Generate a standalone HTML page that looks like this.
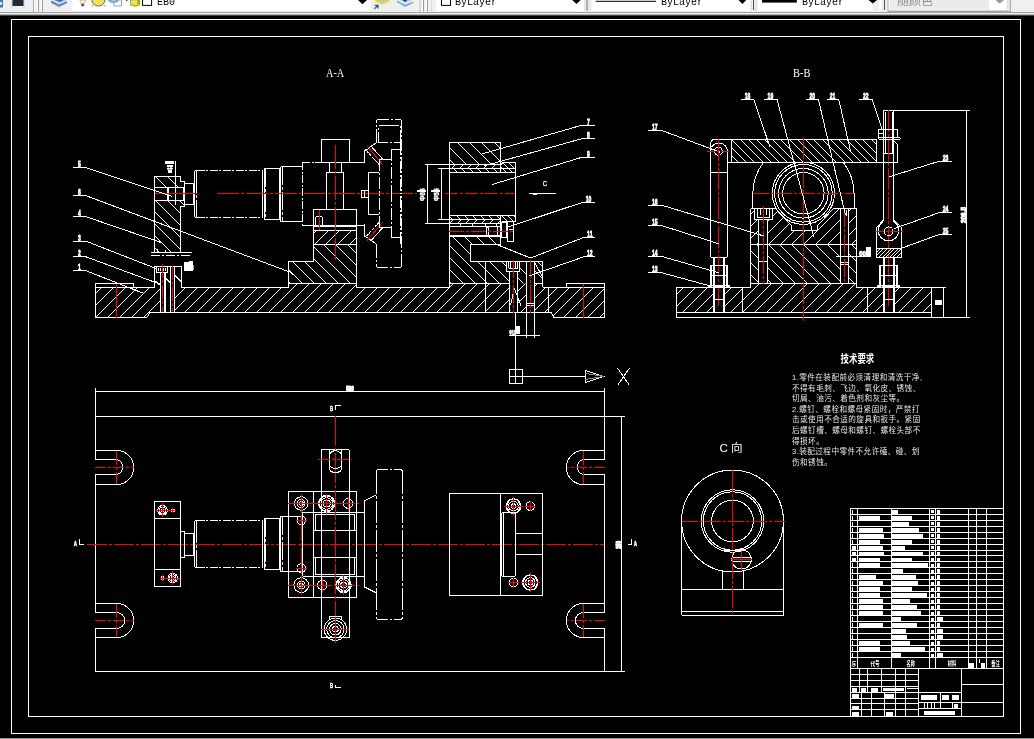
<!DOCTYPE html>
<html lang="zh"><head><meta charset="utf-8"><title>AutoCAD</title>
<style>
html,body{margin:0;padding:0;background:#000;}
body{width:1034px;height:739px;overflow:hidden;position:relative;font-family:"Liberation Sans","Noto Sans CJK SC",sans-serif;}
svg text{white-space:pre;}
</style></head><body>
<svg width="1034" height="739" viewBox="0 0 1034 739" shape-rendering="crispEdges" fill="none" stroke="#fff" stroke-width="1" style="position:absolute;left:0;top:0;will-change:transform">
<defs><clipPath id="h1"><path d="M95.3 287.3 L288.5 287.3 L288.5 283.2 L356.6 283.2 L356.6 287.3 L449.6 287.3 L449.6 283.5 L542.6 283.5 L542.6 287.3 L604.8 287.3 L604.8 317.5 L553.4 317.5 L551.6 312.2 L150 312.2 L146.9 317.5 L95.3 317.5Z M160.3 287.3 L174.4 287.3 L174.4 312.2 L160.3 312.2Z M510.3 283.5 L517.4 283.5 L517.4 312.2 L510.3 312.2Z M526.1 283.5 L534.8 283.5 L534.8 312.2 L526.1 312.2Z" clip-rule="evenodd"/></clipPath>
<clipPath id="h2"><path d="M154.6 176.3 L180.4 176.3 L180.4 181.1 L184.5 181.1 L184.5 206.3 L180.4 206.3 L180.4 252.5 L154.6 252.5Z M154.6 187.5 L184.5 187.5 L184.5 200.5 L154.6 200.5Z" clip-rule="evenodd"/></clipPath>
<clipPath id="h3"><path d="M313.6 230.6 L356.6 230.6 L356.6 244.5 L313.6 244.5Z" clip-rule="evenodd"/></clipPath>
<clipPath id="h4"><path d="M288.5 261.1 L313.6 261.1 L313.6 244.5 L356.6 244.5 L356.6 283.2 L288.5 283.2Z" clip-rule="evenodd"/></clipPath>
<clipPath id="h5"><path d="M449.5 142.4 L500.7 142.4 L500.7 164.5 L449.5 164.5Z" clip-rule="evenodd"/></clipPath>
<clipPath id="h6"><path d="M449.5 164.7 L500.7 164.7 L500.7 168.7 L449.5 168.7Z" clip-rule="evenodd"/></clipPath>
<clipPath id="h7"><path d="M449.5 168.7 L500.7 168.7 L500.7 172.4 L449.5 172.4Z" clip-rule="evenodd"/></clipPath>
<clipPath id="h8"><path d="M500.7 162.6 L515.6 162.6 L515.6 172.4 L500.7 172.4Z" clip-rule="evenodd"/></clipPath>
<clipPath id="h9"><path d="M449.5 215.5 L500.7 215.5 L500.7 219.6 L449.5 219.6Z" clip-rule="evenodd"/></clipPath>
<clipPath id="h10"><path d="M449.5 219.6 L500.7 219.6 L500.7 223.9 L449.5 223.9Z" clip-rule="evenodd"/></clipPath>
<clipPath id="h11"><path d="M501.5 215.5 L515.6 215.5 L515.6 221.4 L501.5 221.4Z" clip-rule="evenodd"/></clipPath>
<clipPath id="h12"><path d="M449.5 236.9 L500.7 236.9 L500.7 244.8 L470.5 244.8 L470.5 261.3 L542.6 261.3 L542.6 283.5 L449.5 283.5Z M506.1 261.3 L519.6 261.3 L519.6 271 L506.1 271Z M509.3 271 L517.4 271 L517.4 283.5 L509.3 283.5Z M526.1 261.3 L534.8 261.3 L534.8 283.5 L526.1 283.5Z" clip-rule="evenodd"/></clipPath>
<clipPath id="h13"><path d="M676.4 287.3 L750.6 287.3 L750.6 283.8 L856.5 283.8 L856.5 287.3 L931.5 287.3 L931.5 312.2 L676.4 312.2Z M713.1 287.3 L725.1 287.3 L725.1 312.2 L713.1 312.2Z M883.6 287.3 L893.8 287.3 L893.8 312.2 L883.6 312.2Z" clip-rule="evenodd"/></clipPath>
<clipPath id="h14"><path d="M731.5 139.4 L876.4 139.4 L876.4 162.2 L731.5 162.2Z" clip-rule="evenodd"/></clipPath>
<clipPath id="h15"><path clip-rule="evenodd" d="M750.6 208.9 L856.5 208.9 L856.5 244.7 L750.6 244.7Z M775.5 208.9 L791.2 225.8 L791.2 230.8 L817.2 230.8 L817.2 225.8 L833.4 208.9Z M754.2 208.9 L772.1 208.9 L772.1 219.3 L754.2 219.3Z M758.4 219.3 L767.7 219.3 L767.7 244.7 L758.4 244.7Z M840.6 208.9 L848.4 208.9 L848.4 244.7 L840.6 244.7Z"/></clipPath>
<clipPath id="h16"><path d="M750.6 244.7 L856.5 244.7 L856.5 283.8 L750.6 283.8Z M840.6 244.7 L848.4 244.7 L848.4 283.8 L840.6 283.8Z M758.4 244.7 L767.7 244.7 L767.7 283.8 L758.4 283.8Z" clip-rule="evenodd"/></clipPath>
<clipPath id="h17"><path d="M876.6 248.2 L901.3 248.2 L901.3 257.6 L876.6 257.6Z" clip-rule="evenodd"/></clipPath></defs>
<rect x="11.5" y="19.5" width="1009" height="714"/>
<rect x="28.5" y="36.5" width="975" height="680"/>
<rect x="0" y="738" width="1034" height="1" fill="#9a9a9a" stroke="none"/>
<path clip-path="url(#h1)" d="M35 318L70 283M47 318L82 283M59 318L94 283M71 318L106 283M83 318L118 283M95 318L130 283M107 318L142 283M119 318L154 283M131 318L166 283M143 318L178 283M155 318L190 283M167 318L202 283M179 318L214 283M191 318L226 283M203 318L238 283M215 318L250 283M227 318L262 283M239 318L274 283M251 318L286 283M263 318L298 283M275 318L310 283M287 318L322 283M299 318L334 283M311 318L346 283M323 318L358 283M335 318L370 283M347 318L382 283M359 318L394 283M371 318L406 283M383 318L418 283M395 318L430 283M407 318L442 283M419 318L454 283M431 318L466 283M443 318L478 283M455 318L490 283M467 318L502 283M479 318L514 283M491 318L526 283M503 318L538 283M515 318L550 283M527 318L562 283M539 318L574 283M551 318L586 283M563 318L598 283M575 318L610 283M587 318L622 283M599 318L634 283M611 318L646 283M623 318L658 283M635 318L670 283M647 318L682 283M659 318L694 283M671 318L706 283"/>
<polyline points="154.6,287.5 95.5,287.5 95.5,283.5 133.5,283.5 133.5,287.3"/>
<polyline points="95.5,287.3 95.5,317.5 146.9,317.5 150,312.5 551.6,312.5 553.4,317.5 604.5,317.5 604.5,283.5 566.5,283.5 566.5,287.3"/>
<line x1="542.6" y1="287.5" x2="604.8" y2="287.5"/>
<polyline points="181,287.5 288.5,287.5 288.5,283.5 356.5,283.5 356.5,287.5 449.5,287.5 449.5,283.5 508.5,283.5"/>
<line x1="534.8" y1="283.5" x2="542.6" y2="283.5"/>
<line x1="116.5" y1="283.6" x2="116.5" y2="317.5" stroke="#f00"/>
<line x1="583.5" y1="284" x2="583.5" y2="317.5" stroke="#f00"/>
<line x1="485.5" y1="261.3" x2="485.5" y2="312.2"/>
<line x1="548.5" y1="287.3" x2="548.5" y2="312.2"/>
<polyline points="154.5,287.3 154.5,266.5 181.5,266.5 181.5,287.3"/>
<polyline points="156.5,266.3 156.5,272.5 167.5,272.5 167.5,266.3"/>
<line x1="158.5" y1="267.5" x2="158.5" y2="271"/>
<line x1="160.5" y1="267.5" x2="160.5" y2="271"/>
<line x1="163.5" y1="267.5" x2="163.5" y2="271"/>
<line x1="165.5" y1="267.5" x2="165.5" y2="271"/>
<line x1="160.5" y1="272.6" x2="160.5" y2="312.2"/>
<line x1="164.5" y1="272.6" x2="164.5" y2="312.2"/>
<line x1="165.5" y1="272.6" x2="165.5" y2="312.2"/>
<line x1="170.5" y1="266.3" x2="170.5" y2="312.2"/>
<line x1="174.5" y1="266.3" x2="174.5" y2="312.2"/>
<line x1="162.5" y1="263.9" x2="162.5" y2="312.4" stroke="#f00" stroke-dasharray="14 2 3 2"/>
<line x1="172.5" y1="266.3" x2="172.5" y2="312.4" stroke="#f00" stroke-dasharray="14 2 3 2"/>
<line x1="174.4" y1="275" x2="181" y2="281.5"/>
<line x1="154.6" y1="280.5" x2="160.3" y2="285.4"/>
<line x1="165.6" y1="278" x2="170.7" y2="283"/>
<path d="M184.5 262.5H189V261.5H192.5V270.5H184.5Z" fill="#fff"/>
<text x="185" y="269.5" font-size="6.5" font-family="&quot;Liberation Sans&quot;,&quot;Noto Sans CJK SC&quot;,sans-serif" fill="#fff" stroke="none" font-weight="bold">M8</text>
<path clip-path="url(#h2)" d="M52 253L-25 176M64 253L-13 176M76 253L-1 176M88 253L11 176M100 253L23 176M112 253L35 176M124 253L47 176M136 253L59 176M148 253L71 176M160 253L83 176M172 253L95 176M184 253L107 176M196 253L119 176M208 253L131 176M220 253L143 176M232 253L155 176M244 253L167 176M256 253L179 176M268 253L191 176M280 253L203 176M292 253L215 176"/>
<polygon points="154.5,176.5 180.5,176.5 180.5,181.5 184.5,181.5 184.5,206.5 180.5,206.5 180.5,252.5 154.5,252.5"/>
<line x1="151" y1="252.5" x2="192" y2="252.5"/>
<line x1="151" y1="255.5" x2="192" y2="255.5" stroke-dasharray="9 2 2 2"/>
<line x1="175.5" y1="160.8" x2="175.5" y2="205.3"/>
<line x1="154.6" y1="187.5" x2="184.5" y2="187.5"/>
<line x1="154.6" y1="200.5" x2="184.5" y2="200.5"/>
<line x1="167.5" y1="187.5" x2="167.5" y2="200.5"/>
<line x1="168.5" y1="187.5" x2="168.5" y2="200.5"/>
<line x1="183.5" y1="187.5" x2="183.5" y2="200.5"/>
<line x1="157.5" y1="252.5" x2="157.5" y2="249"/>
<line x1="165.5" y1="252.5" x2="165.5" y2="250"/>
<rect x="165" y="161" width="9" height="3.3" fill="#fff" stroke="none"/>
<text x="166.5" y="169.5" font-size="5.5" font-family="&quot;Liberation Sans&quot;,&quot;Noto Sans CJK SC&quot;,sans-serif" fill="#fff" stroke="none" font-weight="bold">18</text>
<rect x="167.3" y="165.2" width="6" height="1.4" fill="#fff" stroke="none"/>
<rect x="167.3" y="167.6" width="5.3" height="1.4" fill="#fff" stroke="none"/>
<rect x="167.8" y="170.2" width="4.1" height="2.6" fill="#fff" stroke="none"/>
<rect x="184.5" y="183.5" width="9" height="21"/>
<path d="M196.5 170.5H262.5M196.5 217.5H262.5" stroke-dasharray="8 1.5 2 1.5"/>
<path d="M194.5 172.5Q194.5 170.5 196.5 170.5M194.5 215.5Q194.5 217.5 196.5 217.5"/>
<line x1="194.5" y1="172.5" x2="194.5" y2="215.5"/>
<line x1="196.5" y1="171" x2="196.5" y2="217" stroke-dasharray="22 2 3 2"/>
<line x1="262.5" y1="170.3" x2="262.5" y2="217.4"/>
<path d="M264.5 168.5H279.5V219.5H264.5Z"/>
<line x1="265.5" y1="168.5" x2="265.5" y2="219.5" stroke-dasharray="18 2 3 2"/>
<path d="M280.5 166.5H302.5M280.5 221.5H302.5M280.5 166.5V221.5"/>
<line x1="282.5" y1="166.5" x2="282.5" y2="221.5" stroke-dasharray="18 2 3 2"/>
<polyline points="302.2,162.5 321.1,162.5" stroke-dasharray="8 1.5 2 1.5"/>
<line x1="349" y1="162.5" x2="364.9" y2="162.5"/>
<line x1="302.5" y1="162.2" x2="302.5" y2="225.5" stroke-dasharray="8 1.5 2 1.5"/>
<line x1="302.2" y1="225.5" x2="313.4" y2="225.5"/>
<line x1="356.7" y1="225.5" x2="364.9" y2="225.5"/>
<rect x="321.5" y="139.5" width="28" height="23"/>
<line x1="329.5" y1="162.2" x2="329.5" y2="172.3"/>
<line x1="341.5" y1="162.2" x2="341.5" y2="172.3"/>
<line x1="329.3" y1="162.5" x2="341.8" y2="162.5"/>
<polyline points="326.5,209.2 326.5,172.5 343.5,172.5 343.5,209.2"/>
<rect x="313.5" y="209.5" width="43" height="16"/>
<line x1="313.4" y1="226.5" x2="356.7" y2="226.5"/>
<line x1="313.5" y1="225.3" x2="313.5" y2="230.6"/>
<line x1="356.5" y1="225.3" x2="356.5" y2="230.6"/>
<path d="M315.5 225V218.5Q315.5 216.5 317.5 216.5H320.5Q322.5 216.5 322.5 218.5V225"/>
<line x1="319.5" y1="210" x2="319.5" y2="231.3" stroke="#f00"/>
<path clip-path="url(#h3)" d="M266 245L281 230M278 245L293 230M290 245L305 230M302 245L317 230M314 245L329 230M325 245L340 230M337 245L352 230M349 245L364 230M361 245L376 230M372 245L387 230M384 245L399 230M396 245L411 230"/>
<polygon points="313.5,230.5 356.5,230.5 356.5,244.5 313.5,244.5"/>
<path clip-path="url(#h4)" d="M218 284L178 244M230 284L190 244M242 284L202 244M254 284L214 244M266 284L226 244M278 284L238 244M291 284L251 244M303 284L263 244M315 284L275 244M327 284L287 244M339 284L299 244M351 284L311 244M363 284L323 244M375 284L335 244M387 284L347 244M400 284L360 244M412 284L372 244M424 284L384 244"/>
<polyline points="288.5,287.3 288.5,261.5 313.5,261.5 313.5,244.5"/>
<line x1="356.5" y1="244.5" x2="356.5" y2="287.3"/>
<line x1="335.5" y1="144.8" x2="335.5" y2="259.8" stroke="#f00" stroke-dasharray="24 2 3 2"/>
<line x1="154.8" y1="193.5" x2="197.3" y2="193.5" stroke="#f00"/>
<line x1="216.7" y1="193.5" x2="417.4" y2="193.5" stroke="#f00" stroke-dasharray="22 2 3 2"/>
<line x1="445.2" y1="193.5" x2="515.8" y2="193.5" stroke="#f00" stroke-dasharray="13 2 3 2"/>
<path d="M376.5 142.5 V121.5 Q376.5 119.5 378.5 119.5 H399.5 Q401.5 119.5 401.5 121.5" stroke-dasharray="14 2 2 2"/>
<line x1="401.5" y1="121" x2="401.5" y2="193.4" stroke-dasharray="12 2 2 2"/>
<rect x="378.5" y="125.5" width="22" height="17" stroke-dasharray="20 2 2 2"/>
<line x1="400.5" y1="142.6" x2="400.5" y2="193.4" stroke-dasharray="12 2 2 2"/>
<line x1="376.2" y1="142.9" x2="370.9" y2="146.5"/>
<line x1="370.9" y1="146.5" x2="367.8" y2="149"/>
<line x1="371.3" y1="146.5" x2="382.9" y2="159.3"/>
<polyline points="364.5,162.4 364.5,150.8 366.2,149.6 367.8,149"/>
<line x1="366.4" y1="150.6" x2="379.2" y2="164.6" stroke-dasharray="3 1"/>
<line x1="367" y1="145.9" x2="382.9" y2="164.8" stroke="#f00"/>
<line x1="379.2" y1="159.5" x2="391" y2="159.5"/>
<line x1="379.5" y1="159.3" x2="379.5" y2="193.4" stroke-dasharray="12 2 2 2"/>
<line x1="391.5" y1="149.2" x2="391.5" y2="193.4" stroke-dasharray="12 2 2 2"/>
<line x1="391.2" y1="149.5" x2="400.5" y2="149.5"/>
<polyline points="379.2,172.5 368.5,172.5 368.5,193.4"/>
<path d="M376.5 243.5 V265.5 Q376.5 267.5 378.5 267.5 H399.5 Q401.5 267.5 401.5 265.5" stroke-dasharray="14 2 2 2"/>
<line x1="401.5" y1="265.8" x2="401.5" y2="193.4" stroke-dasharray="12 2 2 2"/>
<rect x="378.5" y="261.5" width="22" height="-17" stroke-dasharray="20 2 2 2"/>
<line x1="400.5" y1="244.2" x2="400.5" y2="193.4" stroke-dasharray="12 2 2 2"/>
<line x1="376.2" y1="243.9" x2="370.9" y2="240.3"/>
<line x1="370.9" y1="240.3" x2="367.8" y2="237.8"/>
<line x1="371.3" y1="240.3" x2="382.9" y2="227.5"/>
<polyline points="364.5,224.4 364.5,236 366.2,237.2 367.8,237.8"/>
<line x1="366.4" y1="236.2" x2="379.2" y2="222.2" stroke-dasharray="3 1"/>
<line x1="367" y1="240.9" x2="382.9" y2="222" stroke="#f00"/>
<line x1="379.2" y1="227.5" x2="391" y2="227.5"/>
<line x1="379.5" y1="227.5" x2="379.5" y2="193.4" stroke-dasharray="12 2 2 2"/>
<line x1="391.5" y1="237.6" x2="391.5" y2="193.4" stroke-dasharray="12 2 2 2"/>
<line x1="391.2" y1="237.5" x2="400.5" y2="237.5"/>
<polyline points="379.2,214.5 368.5,214.5 368.5,193.4"/>
<rect x="361.5" y="190.5" width="7" height="7"/>
<line x1="364.5" y1="190.4" x2="364.5" y2="197.7"/>
<path clip-path="url(#h5)" d="M393 165L370 142M405 165L382 142M418 165L395 142M430 165L407 142M442 165L419 142M455 165L432 142M467 165L444 142M480 165L457 142M492 165L469 142M504 165L481 142M517 165L494 142M529 165L506 142M542 165L519 142M554 165L531 142"/>
<polygon points="449.5,142.5 500.5,142.5 500.5,164.5 449.5,164.5"/>
<path clip-path="url(#h6)" d="M427 169L432 164M435 169L440 164M443 169L448 164M451 169L456 164M459 169L464 164M467 169L472 164M475 169L480 164M483 169L488 164M491 169L496 164M499 169L504 164M507 169L512 164M515 169L520 164M523 169L528 164"/>
<path clip-path="url(#h7)" d="M426 173L421 168M434 173L429 168M442 173L437 168M450 173L445 168M458 173L453 168M466 173L461 168M474 173L469 168M482 173L477 168M490 173L485 168M498 173L493 168M506 173L501 168M514 173L509 168M522 173L517 168M530 173L525 168"/>
<path clip-path="url(#h8)" d="M477 173L466 162M483 173L472 162M489 173L478 162M495 173L484 162M501 173L490 162M507 173L496 162M513 173L502 162M519 173L508 162M525 173L514 162M531 173L520 162M537 173L526 162M543 173L532 162"/>
<line x1="449.5" y1="168.5" x2="515.6" y2="168.5"/>
<line x1="449.5" y1="172.5" x2="515.6" y2="172.5"/>
<line x1="502.8" y1="162.5" x2="515.6" y2="162.5"/>
<line x1="515.5" y1="162.6" x2="515.5" y2="221.4"/>
<line x1="500.5" y1="164.7" x2="500.5" y2="172.4"/>
<line x1="502.8" y1="162.6" x2="500.7" y2="164.7"/>
<path clip-path="url(#h9)" d="M421 220L416 215M429 220L424 215M437 220L432 215M445 220L440 215M453 220L448 215M461 220L456 215M469 220L464 215M477 220L472 215M485 220L480 215M493 220L488 215M501 220L496 215M509 220L504 215M517 220L512 215M525 220L520 215"/>
<path clip-path="url(#h10)" d="M425 224L430 219M433 224L438 219M441 224L446 219M449 224L454 219M457 224L462 219M465 224L470 219M473 224L478 219M481 224L486 219M489 224L494 219M497 224L502 219M505 224L510 219M513 224L518 219M521 224L526 219M529 224L534 219"/>
<path clip-path="url(#h11)" d="M478 222L471 215M484 222L477 215M490 222L483 215M496 222L489 215M502 222L495 215M508 222L501 215M514 222L507 215M520 222L513 215M526 222L519 215M532 222L525 215M538 222L531 215"/>
<line x1="449.5" y1="215.5" x2="515.6" y2="215.5"/>
<line x1="449.5" y1="219.5" x2="500.7" y2="219.5"/>
<line x1="501.5" y1="221.5" x2="515.6" y2="221.5"/>
<line x1="500.5" y1="215.5" x2="500.5" y2="244.8"/>
<line x1="449.5" y1="142.4" x2="449.5" y2="283.5"/>
<line x1="425.4" y1="164.5" x2="500.7" y2="164.5"/>
<line x1="425.4" y1="223.5" x2="500.7" y2="223.5"/>
<line x1="438.4" y1="168.5" x2="449.5" y2="168.5"/>
<line x1="438.4" y1="219.5" x2="449.5" y2="219.5"/>
<line x1="427.5" y1="164.7" x2="427.5" y2="223.9"/>
<line x1="441.5" y1="168.7" x2="441.5" y2="219.6"/>
<text x="424.8" y="201" font-size="6.5" font-family="&quot;Liberation Sans&quot;,&quot;Noto Sans CJK SC&quot;,sans-serif" fill="#fff" stroke="#fff" stroke-width="0.4" font-weight="bold" transform="rotate(-90 424.8 201)">Φ65</text>
<text x="439.3" y="201" font-size="6.5" font-family="&quot;Liberation Sans&quot;,&quot;Noto Sans CJK SC&quot;,sans-serif" fill="#fff" stroke="#fff" stroke-width="0.4" font-weight="bold" transform="rotate(-90 439.3 201)">Φ55</text>
<rect x="417.2" y="189.6" width="8.6" height="2.2" fill="#fff" stroke="none"/>
<rect x="431.2" y="189.6" width="8.8" height="2.2" fill="#fff" stroke="none"/>
<rect x="449" y="225.5" width="52" height="1.5" fill="#fff" stroke="none"/>
<line x1="460.5" y1="223.9" x2="460.5" y2="226"/>
<line x1="472.5" y1="223.9" x2="472.5" y2="226"/>
<line x1="485.5" y1="223.9" x2="485.5" y2="226"/>
<line x1="496.5" y1="223.9" x2="496.5" y2="226"/>
<line x1="449.5" y1="226.5" x2="449.5" y2="236"/>
<rect x="486.5" y="227.5" width="2" height="8"/>
<line x1="497.5" y1="227" x2="497.5" y2="235.5"/>
<rect x="449" y="235" width="52" height="2" fill="#fff" stroke="none"/>
<rect x="501.5" y="222.5" width="5" height="15"/>
<rect x="507.5" y="221.5" width="6" height="20"/>
<line x1="508.5" y1="229.5" x2="513" y2="229.5"/>
<line x1="449" y1="231.5" x2="515" y2="231.5" stroke="#f00" stroke-dasharray="15 2 3 2"/>
<path clip-path="url(#h12)" d="M368 284L320 236M380 284L332 236M392 284L344 236M404 284L356 236M416 284L368 236M428 284L380 236M440 284L392 236M452 284L404 236M464 284L416 236M476 284L428 236M488 284L440 236M500 284L452 236M512 284L464 236M524 284L476 236M536 284L488 236M548 284L500 236M560 284L512 236M572 284L524 236M584 284L536 236M596 284L548 236M608 284L560 236M620 284L572 236"/>
<polyline points="500.7,244.5 470.5,244.5 470.5,261.5 542.5,261.5 542.5,287.3"/>
<polyline points="506.5,261.3 506.5,271.5 519.5,271.5 519.5,261.3"/>
<line x1="508.5" y1="262" x2="508.5" y2="268"/>
<line x1="510.5" y1="262" x2="510.5" y2="268"/>
<line x1="515.5" y1="262" x2="515.5" y2="268"/>
<line x1="517.5" y1="262" x2="517.5" y2="268"/>
<line x1="508.5" y1="268.5" x2="517.5" y2="268.5"/>
<line x1="509.5" y1="271" x2="509.5" y2="312.2"/>
<line x1="517.5" y1="271" x2="517.5" y2="312.2"/>
<line x1="526.5" y1="261.3" x2="526.5" y2="312.2"/>
<line x1="534.5" y1="261.3" x2="534.5" y2="312.2"/>
<line x1="526.1" y1="303.5" x2="534.8" y2="303.5"/>
<line x1="526.1" y1="305.5" x2="534.8" y2="305.5"/>
<path d="M510.5 305.5L514.3 288.5L521 305.5"/>
<line x1="513.5" y1="260.3" x2="513.5" y2="312.6" stroke="#f00" stroke-dasharray="18 2 3 2"/>
<line x1="530.5" y1="260.3" x2="530.5" y2="312.6" stroke="#f00" stroke-dasharray="18 2 3 2"/>
<line x1="534.8" y1="263" x2="542.6" y2="277"/>
<line x1="515.5" y1="312.2" x2="515.5" y2="369.2"/>
<line x1="526.5" y1="312.2" x2="526.5" y2="337.7"/>
<line x1="534.5" y1="312.2" x2="534.5" y2="337.7"/>
<line x1="509.3" y1="335.5" x2="539.8" y2="335.5"/>
<text x="509.3" y="334.6" font-size="7" font-family="&quot;Liberation Sans&quot;,&quot;Noto Sans CJK SC&quot;,sans-serif" fill="#fff" stroke="#fff" stroke-width="0.6" font-weight="bold" textLength="6" lengthAdjust="spacingAndGlyphs">Φ10</text>
<rect x="515" y="326" width="5" height="8" fill="#fff" stroke="none"/>
<line x1="73.2" y1="167.5" x2="85.5" y2="167.5"/>
<line x1="85.5" y1="167.6" x2="171.8" y2="196.4"/>
<text x="77.9" y="167.4" font-size="9.6" font-family="&quot;Liberation Sans&quot;,&quot;Noto Sans CJK SC&quot;,sans-serif" fill="#fff" stroke="#fff" stroke-width="0.8" font-weight="bold" textLength="2.8" lengthAdjust="spacingAndGlyphs">5</text>
<line x1="73.2" y1="195.5" x2="85.5" y2="195.5"/>
<line x1="85.5" y1="195.5" x2="290.5" y2="272.3"/>
<text x="77.9" y="195.3" font-size="9.6" font-family="&quot;Liberation Sans&quot;,&quot;Noto Sans CJK SC&quot;,sans-serif" fill="#fff" stroke="#fff" stroke-width="0.8" font-weight="bold" textLength="2.8" lengthAdjust="spacingAndGlyphs">6</text>
<line x1="73.2" y1="216.5" x2="85.5" y2="216.5"/>
<line x1="85.5" y1="216.5" x2="161" y2="242.5"/>
<text x="77.9" y="216.3" font-size="9.6" font-family="&quot;Liberation Sans&quot;,&quot;Noto Sans CJK SC&quot;,sans-serif" fill="#fff" stroke="#fff" stroke-width="0.8" font-weight="bold" textLength="2.8" lengthAdjust="spacingAndGlyphs">4</text>
<line x1="73.2" y1="241.5" x2="85.5" y2="241.5"/>
<line x1="85.5" y1="241" x2="156" y2="268.5"/>
<text x="77.9" y="240.8" font-size="9.6" font-family="&quot;Liberation Sans&quot;,&quot;Noto Sans CJK SC&quot;,sans-serif" fill="#fff" stroke="#fff" stroke-width="0.8" font-weight="bold" textLength="2.8" lengthAdjust="spacingAndGlyphs">3</text>
<line x1="73.2" y1="256.5" x2="85.5" y2="256.5"/>
<line x1="85.5" y1="256.6" x2="160.6" y2="284.4"/>
<text x="77.9" y="256.4" font-size="9.6" font-family="&quot;Liberation Sans&quot;,&quot;Noto Sans CJK SC&quot;,sans-serif" fill="#fff" stroke="#fff" stroke-width="0.8" font-weight="bold" textLength="2.8" lengthAdjust="spacingAndGlyphs">2</text>
<line x1="73.2" y1="270.5" x2="85.5" y2="270.5"/>
<line x1="85.5" y1="270.5" x2="142.6" y2="293"/>
<text x="77.9" y="270.3" font-size="9.6" font-family="&quot;Liberation Sans&quot;,&quot;Noto Sans CJK SC&quot;,sans-serif" fill="#fff" stroke="#fff" stroke-width="0.8" font-weight="bold" textLength="2.8" lengthAdjust="spacingAndGlyphs">1</text>
<path d="M290.5 272.3l2 1.5l0 1.5"/>
<line x1="582.2" y1="125.5" x2="594.7" y2="125.5"/>
<line x1="582.2" y1="125.1" x2="481.6" y2="154.1"/>
<text x="587.1" y="124.9" font-size="9.6" font-family="&quot;Liberation Sans&quot;,&quot;Noto Sans CJK SC&quot;,sans-serif" fill="#fff" stroke="#fff" stroke-width="0.8" font-weight="bold" textLength="2.8" lengthAdjust="spacingAndGlyphs">7</text>
<line x1="582.2" y1="138.5" x2="594.7" y2="138.5"/>
<line x1="582.2" y1="138.6" x2="483.5" y2="166.1"/>
<text x="587.1" y="138.4" font-size="9.6" font-family="&quot;Liberation Sans&quot;,&quot;Noto Sans CJK SC&quot;,sans-serif" fill="#fff" stroke="#fff" stroke-width="0.8" font-weight="bold" textLength="2.8" lengthAdjust="spacingAndGlyphs">8</text>
<line x1="582.2" y1="157.5" x2="594.7" y2="157.5"/>
<line x1="582.2" y1="157.2" x2="492.2" y2="184.5"/>
<text x="587.1" y="157" font-size="9.6" font-family="&quot;Liberation Sans&quot;,&quot;Noto Sans CJK SC&quot;,sans-serif" fill="#fff" stroke="#fff" stroke-width="0.8" font-weight="bold" textLength="2.8" lengthAdjust="spacingAndGlyphs">9</text>
<line x1="582.2" y1="202.5" x2="594.7" y2="202.5"/>
<line x1="582.2" y1="202.5" x2="507.4" y2="227.3"/>
<text x="585.7" y="202.3" font-size="9.6" font-family="&quot;Liberation Sans&quot;,&quot;Noto Sans CJK SC&quot;,sans-serif" fill="#fff" stroke="#fff" stroke-width="0.8" font-weight="bold" textLength="5.6" lengthAdjust="spacingAndGlyphs">10</text>
<line x1="584.7" y1="237.5" x2="594.8" y2="237.5"/>
<line x1="584.7" y1="237.1" x2="530.6" y2="258"/>
<text x="587" y="236.9" font-size="9.6" font-family="&quot;Liberation Sans&quot;,&quot;Noto Sans CJK SC&quot;,sans-serif" fill="#fff" stroke="#fff" stroke-width="0.8" font-weight="bold" textLength="5.6" lengthAdjust="spacingAndGlyphs">11</text>
<line x1="584.7" y1="256.5" x2="594.8" y2="256.5"/>
<line x1="584.7" y1="256.5" x2="529.6" y2="275.8"/>
<text x="587" y="256.3" font-size="9.6" font-family="&quot;Liberation Sans&quot;,&quot;Noto Sans CJK SC&quot;,sans-serif" fill="#fff" stroke="#fff" stroke-width="0.8" font-weight="bold" textLength="5.6" lengthAdjust="spacingAndGlyphs">12</text>
<line x1="498" y1="245" x2="530.6" y2="258"/>
<text x="542.8" y="186.2" font-size="7.6" font-family="&quot;Liberation Sans&quot;,&quot;Noto Sans CJK SC&quot;,sans-serif" fill="#fff" stroke="#fff" stroke-width="0.3" textLength="4.3" lengthAdjust="spacingAndGlyphs">C</text>
<line x1="529" y1="193.5" x2="556" y2="193.5"/>
<rect x="533" y="194" width="3.5" height="1" fill="#fff" stroke="none"/>
<text x="326" y="77" font-size="12" font-family="&quot;Liberation Serif&quot;,&quot;Noto Serif CJK SC&quot;,serif" fill="#fff" stroke="none" textLength="18.2" lengthAdjust="spacingAndGlyphs">A-A</text>
<path clip-path="url(#h13)" d="M610 313L640 283M622 313L652 283M634 313L664 283M646 313L676 283M658 313L688 283M670 313L700 283M682 313L712 283M694 313L724 283M706 313L736 283M718 313L748 283M730 313L760 283M742 313L772 283M754 313L784 283M766 313L796 283M778 313L808 283M790 313L820 283M802 313L832 283M814 313L844 283M826 313L856 283M838 313L868 283M850 313L880 283M862 313L892 283M874 313L904 283M886 313L916 283M898 313L928 283M910 313L940 283M922 313L952 283M934 313L964 283M946 313L976 283M958 313L988 283M970 313L1000 283M982 313L1012 283M994 313L1024 283"/>
<polygon points="676.5,287.5 750.5,287.5 750.5,283.5 856.5,283.5 856.5,287.5 931.5,287.5 931.5,312.5 676.5,312.5"/>
<rect x="676.5" y="312.5" width="255" height="5"/>
<line x1="742.5" y1="287.3" x2="742.5" y2="312.2"/>
<line x1="867.5" y1="287.3" x2="867.5" y2="312.2"/>
<line x1="931.5" y1="287.5" x2="946" y2="287.5"/>
<line x1="931.5" y1="317.5" x2="969.8" y2="317.5"/>
<line x1="943.5" y1="287.3" x2="943.5" y2="317.5"/>
<line x1="966.5" y1="110.4" x2="966.5" y2="317.5"/>
<rect x="934.8" y="300" width="7" height="5" fill="#fff" stroke="none"/>
<text x="935" y="304.8" font-size="6" font-family="&quot;Liberation Sans&quot;,&quot;Noto Sans CJK SC&quot;,sans-serif" fill="#fff" stroke="none" font-weight="bold">30</text>
<text x="965.8" y="223" font-size="8" font-family="&quot;Liberation Sans&quot;,&quot;Noto Sans CJK SC&quot;,sans-serif" fill="#fff" stroke="#fff" stroke-width="1" font-weight="bold" transform="rotate(-90 965.8 223)" textLength="16" lengthAdjust="spacingAndGlyphs">206.5</text>
<path clip-path="url(#h14)" d="M690 163L666 139M698 163L674 139M706 163L682 139M714 163L690 139M722 163L698 139M731 163L707 139M739 163L715 139M747 163L723 139M755 163L731 139M764 163L740 139M772 163L748 139M780 163L756 139M788 163L764 139M796 163L772 139M804 163L780 139M813 163L789 139M821 163L797 139M829 163L805 139M837 163L813 139M846 163L822 139M854 163L830 139M862 163L838 139M870 163L846 139M878 163L854 139M886 163L862 139M895 163L871 139M903 163L879 139M911 163L887 139M919 163L895 139"/>
<polygon points="731.5,139.5 876.5,139.5 876.5,162.5 731.5,162.5"/>
<line x1="727.4" y1="162.5" x2="731.5" y2="162.5"/>
<polyline points="893.8,140.5 897.5,144.5 897.5,162.5 876.4,162.5"/>
<path d="M710.5 144.5Q710.5 139.5 714.5 139.5H731.5"/>
<line x1="710.5" y1="144.5" x2="710.5" y2="257.3"/>
<line x1="727.5" y1="150.3" x2="727.5" y2="257.3"/>
<path d="M711.8 146.9A8.6 8.6 0 0 1 727.4 150.3"/>
<line x1="710.5" y1="172.5" x2="727.4" y2="172.5"/>
<line x1="710.5" y1="257.5" x2="727.4" y2="257.5"/>
<circle cx="718.4" cy="151.3" r="3.9"/>
<rect x="717.5" y="150.5" width="2" height="2" fill="#fff" stroke="none"/>
<line x1="707.3" y1="151.5" x2="729" y2="151.5" stroke="#f00" stroke-dasharray="8 2 2 2"/>
<line x1="718.5" y1="139" x2="718.5" y2="307" stroke="#f00" stroke-dasharray="22 2 3 2"/>
<rect x="713" y="257.3" width="2" height="27.7" fill="#fff" stroke="none"/>
<rect x="723" y="257.3" width="2" height="27.7" fill="#fff" stroke="none"/>
<rect x="710" y="264.5" width="18" height="1.5" fill="#fff" stroke="none"/>
<rect x="710" y="274.5" width="18" height="1.5" fill="#fff" stroke="none"/>
<line x1="710.5" y1="265" x2="710.5" y2="285"/>
<line x1="727.5" y1="265" x2="727.5" y2="285"/>
<line x1="711.5" y1="266" x2="711.5" y2="285"/>
<line x1="726.5" y1="266" x2="726.5" y2="285"/>
<rect x="708" y="284.5" width="22" height="3" fill="#fff" stroke="none"/>
<rect x="712" y="285.5" width="1" height="1" fill="#000" stroke="none"/><rect x="725" y="285.5" width="1" height="1" fill="#000" stroke="none"/>
<rect x="713" y="287.3" width="2" height="24.9" fill="#fff" stroke="none"/>
<rect x="723" y="287.3" width="2" height="24.9" fill="#fff" stroke="none"/>
<line x1="713.1" y1="299.5" x2="724.7" y2="299.5"/>
<path d="M763.5 162.5A50.6 50.6 0 0 0 752.8 193.3 V208.9"/>
<path d="M843.3 162.5A50.6 50.6 0 0 1 854 193.3 V208.9"/>
<path clip-path="url(#h15)" d="M660 245L697 208M672 245L709 208M684 245L721 208M696 245L733 208M708 245L745 208M720 245L757 208M732 245L769 208M744 245L781 208M756 245L793 208M768 245L805 208M780 245L817 208M791 245L828 208M803 245L840 208M815 245L852 208M827 245L864 208M839 245L876 208M851 245L888 208M863 245L900 208M875 245L912 208M887 245L924 208M898 245L935 208M910 245L947 208M922 245L959 208M934 245L971 208M946 245L983 208"/>
<circle cx="803.4" cy="193.3" r="31.1" fill="#000" stroke="none"/>
<polyline points="750.6,208.5 775.5,208.5 791.5,225.8 791.5,230.5 817.5,230.5 817.5,225.8 833.4,208.5 856.5,208.5"/>
<line x1="750.6" y1="244.5" x2="856.5" y2="244.5"/>
<circle cx="803.4" cy="193.3" r="31.1"/>
<circle cx="803.4" cy="193.3" r="28.8"/>
<circle cx="803.4" cy="193.3" r="24.8"/>
<circle cx="803.4" cy="193.3" r="20.7"/>
<path clip-path="url(#h16)" d="M677 284L637 244M688 284L648 244M700 284L660 244M712 284L672 244M724 284L684 244M736 284L696 244M748 284L708 244M760 284L720 244M772 284L732 244M784 284L744 244M796 284L756 244M808 284L768 244M819 284L779 244M831 284L791 244M843 284L803 244M855 284L815 244M867 284L827 244M879 284L839 244M891 284L851 244M903 284L863 244M915 284L875 244M926 284L886 244"/>
<line x1="750.5" y1="208.9" x2="750.5" y2="287.3"/>
<line x1="856.5" y1="208.9" x2="856.5" y2="287.3"/>
<line x1="758.5" y1="219.3" x2="758.5" y2="283.8"/>
<line x1="767.5" y1="219.3" x2="767.5" y2="283.8"/>
<line x1="758.4" y1="261.5" x2="767.7" y2="261.5"/>
<rect x="754.5" y="208.5" width="18" height="11"/>
<polyline points="757.5,208.9 757.5,217.5 769.5,217.5 769.5,208.9"/>
<line x1="760.5" y1="209" x2="760.5" y2="215"/>
<line x1="763.5" y1="209" x2="763.5" y2="215"/>
<line x1="766.5" y1="209" x2="766.5" y2="215"/>
<line x1="763.5" y1="206.4" x2="763.5" y2="283.8" stroke="#f00" stroke-dasharray="18 2 3 2"/>
<line x1="840.5" y1="208.9" x2="840.5" y2="283.8"/>
<line x1="848.5" y1="208.9" x2="848.5" y2="283.8"/>
<line x1="840.6" y1="262.5" x2="848.4" y2="262.5"/>
<line x1="840.6" y1="264.5" x2="848.4" y2="264.5"/>
<line x1="844.5" y1="208.9" x2="844.5" y2="283.8" stroke="#f00" stroke-dasharray="18 2 3 2"/>
<line x1="846.5" y1="210" x2="846.5" y2="216"/>
<line x1="835.8" y1="256.5" x2="870.6" y2="256.5"/>
<text x="859" y="255.6" font-size="7.5" font-family="&quot;Liberation Sans&quot;,&quot;Noto Sans CJK SC&quot;,sans-serif" fill="#fff" stroke="#fff" stroke-width="0.7" font-weight="bold" textLength="7" lengthAdjust="spacingAndGlyphs">60</text>
<rect x="866" y="247" width="4.6" height="8.5" fill="#fff" stroke="none"/>
<line x1="752.8" y1="193.5" x2="854.1" y2="193.5" stroke="#f00" stroke-dasharray="16 2 3 2"/>
<line x1="803.5" y1="137.1" x2="803.5" y2="320.6" stroke="#f00" stroke-dasharray="22 2 3 2"/>
<line x1="883.5" y1="110.4" x2="883.5" y2="220.2"/>
<line x1="893.5" y1="110.4" x2="893.5" y2="220.2"/>
<line x1="885.5" y1="112" x2="885.5" y2="153.5"/>
<line x1="892.5" y1="112" x2="892.5" y2="153.5"/>
<line x1="883.4" y1="153.5" x2="893.6" y2="153.5"/>
<line x1="883.6" y1="110.5" x2="969.8" y2="110.5"/>
<line x1="888.5" y1="110" x2="888.5" y2="307" stroke="#f00" stroke-dasharray="22 2 3 2"/>
<rect x="878.5" y="129.5" width="19" height="8"/>
<line x1="878.9" y1="133.5" x2="883.6" y2="133.5"/>
<polyline points="878.5,137.6 878.5,139.4"/>
<line x1="878.9" y1="139.5" x2="900.2" y2="139.5"/>
<line x1="900.5" y1="137.6" x2="900.5" y2="139.4"/>
<line x1="897.7" y1="137.5" x2="900.2" y2="137.5"/>
<polyline points="883.2,220.2 877.8,226.3 876.5,227.7 876.5,248.2"/>
<polyline points="893.6,220.2 899.8,226 901.5,227.7 901.5,248.2"/>
<path d="M883.5 221.5A10.3 10.3 0 1 0 893.5 221.5"/>
<circle cx="888.6" cy="231.2" r="4.3"/>
<line x1="875" y1="231.5" x2="903" y2="231.5" stroke="#f00" stroke-dasharray="9 2 2 2"/>
<path clip-path="url(#h17)" d="M856 258L866 248M860 258L870 248M864 258L874 248M867 258L877 248M871 258L881 248M874 258L884 248M878 258L888 248M882 258L892 248M885 258L895 248M889 258L899 248M892 258L902 248M896 258L906 248M900 258L910 248M903 258L913 248M907 258L917 248M910 258L920 248M914 258L924 248M918 258L928 248M921 258L931 248"/>
<polygon points="876.5,248.5 901.5,248.5 901.5,257.5 876.5,257.5"/>
<rect x="883" y="257.7" width="2" height="27.3" fill="#fff" stroke="none"/>
<rect x="893" y="257.7" width="2" height="27.3" fill="#fff" stroke="none"/>
<rect x="879" y="264.5" width="19" height="1.5" fill="#fff" stroke="none"/>
<rect x="879" y="274.5" width="19" height="1.5" fill="#fff" stroke="none"/>
<line x1="879.5" y1="265" x2="879.5" y2="285"/>
<line x1="897.5" y1="265" x2="897.5" y2="285"/>
<line x1="880.5" y1="266" x2="880.5" y2="285"/>
<line x1="896.5" y1="266" x2="896.5" y2="285"/>
<rect x="877" y="284.5" width="23" height="3" fill="#fff" stroke="none"/>
<rect x="881" y="285.5" width="1" height="1" fill="#000" stroke="none"/><rect x="895" y="285.5" width="1" height="1" fill="#000" stroke="none"/>
<rect x="883" y="287.3" width="2" height="24.9" fill="#fff" stroke="none"/>
<rect x="893" y="287.3" width="2" height="24.9" fill="#fff" stroke="none"/>
<line x1="883.2" y1="299.5" x2="894.1" y2="299.5"/>
<line x1="741.2" y1="99.5" x2="753.7" y2="99.5"/>
<line x1="753.7" y1="99.3" x2="770" y2="147.3"/>
<text x="744.7" y="99.1" font-size="9.6" font-family="&quot;Liberation Sans&quot;,&quot;Noto Sans CJK SC&quot;,sans-serif" fill="#fff" stroke="#fff" stroke-width="0.8" font-weight="bold" textLength="5.6" lengthAdjust="spacingAndGlyphs">18</text>
<line x1="763.8" y1="99.5" x2="777" y2="99.5"/>
<line x1="777" y1="99.3" x2="813.8" y2="236.6"/>
<text x="767.6" y="99.1" font-size="9.6" font-family="&quot;Liberation Sans&quot;,&quot;Noto Sans CJK SC&quot;,sans-serif" fill="#fff" stroke="#fff" stroke-width="0.8" font-weight="bold" textLength="5.6" lengthAdjust="spacingAndGlyphs">19</text>
<line x1="806.2" y1="99.5" x2="818.4" y2="99.5"/>
<line x1="818.4" y1="99.3" x2="845.5" y2="215.4"/>
<text x="809.5" y="99.1" font-size="9.6" font-family="&quot;Liberation Sans&quot;,&quot;Noto Sans CJK SC&quot;,sans-serif" fill="#fff" stroke="#fff" stroke-width="0.8" font-weight="bold" textLength="5.6" lengthAdjust="spacingAndGlyphs">20</text>
<line x1="826.5" y1="99.5" x2="838.7" y2="99.5"/>
<line x1="838.7" y1="99.3" x2="850.7" y2="151.6"/>
<text x="829.8" y="99.1" font-size="9.6" font-family="&quot;Liberation Sans&quot;,&quot;Noto Sans CJK SC&quot;,sans-serif" fill="#fff" stroke="#fff" stroke-width="0.8" font-weight="bold" textLength="5.6" lengthAdjust="spacingAndGlyphs">21</text>
<line x1="859.4" y1="99.5" x2="872" y2="99.5"/>
<line x1="872" y1="99.3" x2="882.2" y2="129.3"/>
<text x="862.9" y="99.1" font-size="9.6" font-family="&quot;Liberation Sans&quot;,&quot;Noto Sans CJK SC&quot;,sans-serif" fill="#fff" stroke="#fff" stroke-width="0.8" font-weight="bold" textLength="5.6" lengthAdjust="spacingAndGlyphs">22</text>
<line x1="939.3" y1="161.5" x2="951.8" y2="161.5"/>
<line x1="939.3" y1="161.2" x2="889.4" y2="176.7"/>
<text x="942.8" y="161" font-size="9.6" font-family="&quot;Liberation Sans&quot;,&quot;Noto Sans CJK SC&quot;,sans-serif" fill="#fff" stroke="#fff" stroke-width="0.8" font-weight="bold" textLength="5.6" lengthAdjust="spacingAndGlyphs">23</text>
<line x1="939.3" y1="212.5" x2="951.8" y2="212.5"/>
<line x1="939.3" y1="212.6" x2="893.8" y2="228.7"/>
<text x="942.8" y="212.4" font-size="9.6" font-family="&quot;Liberation Sans&quot;,&quot;Noto Sans CJK SC&quot;,sans-serif" fill="#fff" stroke="#fff" stroke-width="0.8" font-weight="bold" textLength="5.6" lengthAdjust="spacingAndGlyphs">24</text>
<line x1="939.3" y1="234.5" x2="951.8" y2="234.5"/>
<line x1="939.3" y1="234.5" x2="901.9" y2="248"/>
<text x="942.8" y="234.3" font-size="9.6" font-family="&quot;Liberation Sans&quot;,&quot;Noto Sans CJK SC&quot;,sans-serif" fill="#fff" stroke="#fff" stroke-width="0.8" font-weight="bold" textLength="5.6" lengthAdjust="spacingAndGlyphs">25</text>
<line x1="648.1" y1="130.5" x2="661.3" y2="130.5"/>
<line x1="661.3" y1="130.3" x2="717.4" y2="151.2"/>
<text x="651.9" y="130.1" font-size="9.6" font-family="&quot;Liberation Sans&quot;,&quot;Noto Sans CJK SC&quot;,sans-serif" fill="#fff" stroke="#fff" stroke-width="0.8" font-weight="bold" textLength="5.6" lengthAdjust="spacingAndGlyphs">17</text>
<line x1="648.1" y1="205.5" x2="661.3" y2="205.5"/>
<line x1="661.3" y1="205.1" x2="763.8" y2="236"/>
<text x="651.9" y="204.9" font-size="9.6" font-family="&quot;Liberation Sans&quot;,&quot;Noto Sans CJK SC&quot;,sans-serif" fill="#fff" stroke="#fff" stroke-width="0.8" font-weight="bold" textLength="5.6" lengthAdjust="spacingAndGlyphs">16</text>
<line x1="648.1" y1="225.5" x2="661.3" y2="225.5"/>
<line x1="661.3" y1="225.4" x2="718.9" y2="243.8"/>
<text x="651.9" y="225.2" font-size="9.6" font-family="&quot;Liberation Sans&quot;,&quot;Noto Sans CJK SC&quot;,sans-serif" fill="#fff" stroke="#fff" stroke-width="0.8" font-weight="bold" textLength="5.6" lengthAdjust="spacingAndGlyphs">15</text>
<line x1="648.1" y1="256.5" x2="661.3" y2="256.5"/>
<line x1="661.3" y1="256.3" x2="718.9" y2="272.8"/>
<text x="651.9" y="256.1" font-size="9.6" font-family="&quot;Liberation Sans&quot;,&quot;Noto Sans CJK SC&quot;,sans-serif" fill="#fff" stroke="#fff" stroke-width="0.8" font-weight="bold" textLength="5.6" lengthAdjust="spacingAndGlyphs">14</text>
<line x1="648.1" y1="272.5" x2="661.3" y2="272.5"/>
<line x1="661.3" y1="272.6" x2="710.6" y2="286.1"/>
<text x="651.9" y="272.4" font-size="9.6" font-family="&quot;Liberation Sans&quot;,&quot;Noto Sans CJK SC&quot;,sans-serif" fill="#fff" stroke="#fff" stroke-width="0.8" font-weight="bold" textLength="5.6" lengthAdjust="spacingAndGlyphs">13</text>
<text x="793" y="77" font-size="12" font-family="&quot;Liberation Serif&quot;,&quot;Noto Serif CJK SC&quot;,serif" fill="#fff" stroke="none" textLength="17.4" lengthAdjust="spacingAndGlyphs">B-B</text>
<rect x="95.5" y="416.5" width="509" height="255"/>
<line x1="95.5" y1="388" x2="95.5" y2="416.4"/>
<line x1="604.5" y1="388" x2="604.5" y2="416.4"/>
<line x1="95.4" y1="391.5" x2="604.7" y2="391.5"/>
<text x="346.3" y="391" font-size="7" font-family="&quot;Liberation Sans&quot;,&quot;Noto Sans CJK SC&quot;,sans-serif" fill="#fff" stroke="#fff" stroke-width="1.2" font-weight="bold" textLength="7.5" lengthAdjust="spacingAndGlyphs">500</text>
<line x1="604.7" y1="416.5" x2="624.8" y2="416.5"/>
<line x1="604.7" y1="671.5" x2="624.8" y2="671.5"/>
<line x1="621.5" y1="416.4" x2="621.5" y2="671.2"/>
<text x="620.9" y="548.8" font-size="8" font-family="&quot;Liberation Sans&quot;,&quot;Noto Sans CJK SC&quot;,sans-serif" fill="#fff" stroke="#fff" stroke-width="1.3" font-weight="bold" transform="rotate(-90 620.9 548.8)" textLength="7.8" lengthAdjust="spacingAndGlyphs">250</text>
<path d="M95.5 450.5H116.7A16.9 16.9 0 0 1 116.7 484.5H95.5"/>
<path d="M95.5 459.5H116.7A7.7 7.7 0 0 1 116.7 474.5H95.5"/>
<line x1="95.5" y1="460" x2="95.5" y2="474.4" stroke="#000"/>
<line x1="95.4" y1="467.5" x2="133.6" y2="467.5" stroke="#f00" stroke-dasharray="11 2 3 2"/>
<line x1="116.5" y1="451.2" x2="116.5" y2="483.8" stroke="#f00" stroke-dasharray="14 2 3 2"/>
<path d="M95.5 603.5H116.7A16.9 16.9 0 0 1 116.7 637.5H95.5"/>
<path d="M95.5 612.5H116.7A7.7 7.7 0 0 1 116.7 628.5H95.5"/>
<line x1="95.5" y1="613.1" x2="95.5" y2="627.5" stroke="#000"/>
<line x1="95.4" y1="620.5" x2="133.6" y2="620.5" stroke="#f00" stroke-dasharray="11 2 3 2"/>
<line x1="116.5" y1="604.3" x2="116.5" y2="636.9" stroke="#f00" stroke-dasharray="14 2 3 2"/>
<path d="M604.5 450.5H583.4A16.9 16.9 0 0 0 583.4 484.5H604.5"/>
<path d="M604.5 459.5H583.4A7.7 7.7 0 0 0 583.4 474.5H604.5"/>
<line x1="604.5" y1="460" x2="604.5" y2="474.4" stroke="#000"/>
<line x1="604.7" y1="467.5" x2="566.5" y2="467.5" stroke="#f00" stroke-dasharray="11 2 3 2"/>
<line x1="583.5" y1="451.2" x2="583.5" y2="483.8" stroke="#f00" stroke-dasharray="14 2 3 2"/>
<path d="M604.5 603.5H583.4A16.9 16.9 0 0 0 583.4 637.5H604.5"/>
<path d="M604.5 612.5H583.4A7.7 7.7 0 0 0 583.4 628.5H604.5"/>
<line x1="604.5" y1="613.1" x2="604.5" y2="627.5" stroke="#000"/>
<line x1="604.7" y1="620.5" x2="566.5" y2="620.5" stroke="#f00" stroke-dasharray="11 2 3 2"/>
<line x1="583.5" y1="604.3" x2="583.5" y2="636.9" stroke="#f00" stroke-dasharray="14 2 3 2"/>
<line x1="87.1" y1="544.5" x2="604.4" y2="544.5" stroke="#f00" stroke-dasharray="20 2 3 2"/>
<text x="73.8" y="546" font-size="8" font-family="&quot;Liberation Sans&quot;,&quot;Noto Sans CJK SC&quot;,sans-serif" fill="#fff" stroke="#fff" stroke-width="0.5" font-weight="bold" textLength="3.3" lengthAdjust="spacingAndGlyphs">A</text>
<path d="M79.5 539V544.5H84"/>
<text x="633.8" y="546" font-size="8" font-family="&quot;Liberation Sans&quot;,&quot;Noto Sans CJK SC&quot;,sans-serif" fill="#fff" stroke="#fff" stroke-width="0.5" font-weight="bold" textLength="3.3" lengthAdjust="spacingAndGlyphs">A</text>
<path d="M627.5 544.5H631.5V539"/>
<text x="330" y="410.8" font-size="6.8" font-family="&quot;Liberation Sans&quot;,&quot;Noto Sans CJK SC&quot;,sans-serif" fill="#fff" stroke="#fff" stroke-width="0.4" font-weight="bold" textLength="3.2" lengthAdjust="spacingAndGlyphs">B</text>
<path d="M335.5 409.5V405.5H340.5"/>
<text x="330" y="688" font-size="6.8" font-family="&quot;Liberation Sans&quot;,&quot;Noto Sans CJK SC&quot;,sans-serif" fill="#fff" stroke="#fff" stroke-width="0.4" font-weight="bold" textLength="3.2" lengthAdjust="spacingAndGlyphs">B</text>
<path d="M335.5 684.5V687.5H340.5"/>
<rect x="154.5" y="501.5" width="26" height="85"/>
<line x1="154.2" y1="518.5" x2="180.9" y2="518.5"/>
<line x1="154.2" y1="569.5" x2="180.9" y2="569.5"/>
<circle cx="162.5" cy="510.4" r="4.8"/>
<circle cx="162.5" cy="510.4" r="3.2"/>
<circle cx="162.5" cy="510.4" r="1.6"/>
<line x1="155.5" y1="510.5" x2="169.5" y2="510.5" stroke="#f00"/>
<line x1="162.5" y1="503.4" x2="162.5" y2="517.4" stroke="#f00"/>
<circle cx="172.8" cy="510.4" r="1.6"/>
<line x1="169.8" y1="510.5" x2="175.8" y2="510.5" stroke="#f00"/>
<line x1="172.5" y1="507.4" x2="172.5" y2="513.4" stroke="#f00"/>
<circle cx="172.8" cy="578" r="4.8"/>
<circle cx="172.8" cy="578" r="3.2"/>
<circle cx="172.8" cy="578" r="1.6"/>
<line x1="165.8" y1="578.5" x2="179.8" y2="578.5" stroke="#f00"/>
<line x1="172.5" y1="571" x2="172.5" y2="585" stroke="#f00"/>
<circle cx="162.5" cy="578" r="1.6"/>
<line x1="159.5" y1="578.5" x2="165.5" y2="578.5" stroke="#f00"/>
<line x1="162.5" y1="575" x2="162.5" y2="581" stroke="#f00"/>
<rect x="180.5" y="531.5" width="4" height="26"/>
<rect x="184.5" y="533.5" width="9" height="22"/>
<path d="M196.5 520.5H262.5M196.5 567.5H262.5" stroke-dasharray="8 1.5 2 1.5"/>
<path d="M194.5 522.5Q194.5 520.5 196.5 520.5M194.5 565.5Q194.5 567.5 196.5 567.5"/>
<line x1="194.5" y1="522.5" x2="194.5" y2="565.5"/>
<line x1="196.5" y1="521" x2="196.5" y2="567" stroke-dasharray="22 2 3 2"/>
<line x1="262.5" y1="520.4" x2="262.5" y2="567.4"/>
<path d="M264.5 518.5H279.5V569.5H264.5Z"/>
<line x1="265.5" y1="518.5" x2="265.5" y2="569.5" stroke-dasharray="18 2 3 2"/>
<path d="M302.5 516.5H280.5V571.5H302.5"/>
<line x1="282.5" y1="516.5" x2="282.5" y2="571.5" stroke-dasharray="18 2 3 2"/>
<rect x="288.5" y="491.5" width="68" height="106"/>
<line x1="313.5" y1="491.3" x2="313.5" y2="597.7"/>
<line x1="321.5" y1="449.9" x2="321.5" y2="637.7"/>
<line x1="349.5" y1="449.9" x2="349.5" y2="637.7"/>
<line x1="321.3" y1="449.5" x2="349" y2="449.5"/>
<line x1="321.3" y1="637.5" x2="349" y2="637.5"/>
<line x1="302.6" y1="512.5" x2="364.4" y2="512.5"/>
<line x1="302.6" y1="576.5" x2="364.4" y2="576.5"/>
<line x1="302.5" y1="512.4" x2="302.5" y2="576.4"/>
<line x1="313.2" y1="530.5" x2="356.7" y2="530.5"/>
<line x1="313.2" y1="557.5" x2="356.7" y2="557.5"/>
<rect x="315.5" y="514.5" width="39" height="16"/>
<rect x="315.5" y="557.5" width="39" height="17"/>
<polyline points="376.1,494.8 364.5,500.6 364.5,587 376.1,592.8"/>
<line x1="364.5" y1="512.4" x2="364.5" y2="576.4" stroke-dasharray="12 2 2 2"/>
<line x1="335.5" y1="416.4" x2="335.5" y2="642.2" stroke="#f00" stroke-dasharray="30 2 3 2"/>
<path d="M329.5 450V468Q329.5 472.5 335.5 472.5Q341.5 472.5 341.5 468V450"/>
<path d="M329.5 454Q335.5 447 341.5 454M329.5 466Q335.5 471 341.5 466"/>
<line x1="318" y1="459.5" x2="351.9" y2="459.5" stroke="#f00" stroke-dasharray="12 2 3 2"/>
<circle cx="301.2" cy="503.5" r="6.8"/>
<circle cx="301.2" cy="503.5" r="3.9"/>
<circle cx="301.2" cy="503.5" r="2"/>
<line x1="291.7" y1="503.5" x2="310.7" y2="503.5" stroke="#f00"/>
<line x1="301.5" y1="494" x2="301.5" y2="513" stroke="#f00"/>
<circle cx="326.7" cy="503.5" r="8.1"/>
<circle cx="326.7" cy="503.5" r="5.8"/>
<circle cx="326.7" cy="503.5" r="3.5"/>
<polygon points="334.8,503.5 330.8,510.5 322.6,510.5 318.6,503.5 322.6,496.5 330.8,496.5"/>
<line x1="316.7" y1="503.5" x2="336.7" y2="503.5" stroke="#f00"/>
<line x1="326.5" y1="493.5" x2="326.5" y2="513.5" stroke="#f00"/>
<circle cx="348" cy="503.5" r="4.8"/>
<line x1="341" y1="503.5" x2="355" y2="503.5" stroke="#f00"/>
<line x1="348.5" y1="496.5" x2="348.5" y2="510.5" stroke="#f00"/>
<line x1="288.4" y1="503.5" x2="358.6" y2="503.5" stroke="#f00" stroke-dasharray="16 2 3 2"/>
<circle cx="301.2" cy="520.4" r="4.3"/>
<line x1="295.7" y1="520.5" x2="306.7" y2="520.5" stroke="#f00"/>
<line x1="301.5" y1="514.9" x2="301.5" y2="525.9" stroke="#f00"/>
<circle cx="301.2" cy="568.1" r="4.3"/>
<line x1="295.7" y1="568.5" x2="306.7" y2="568.5" stroke="#f00"/>
<line x1="301.5" y1="562.6" x2="301.5" y2="573.6" stroke="#f00"/>
<line x1="301.5" y1="525" x2="301.5" y2="564" stroke="#f00" stroke-dasharray="16 2 3 2"/>
<circle cx="301.2" cy="585.1" r="7.4"/>
<circle cx="301.2" cy="585.1" r="3.9"/>
<circle cx="301.2" cy="585.1" r="2"/>
<line x1="291.7" y1="585.5" x2="310.7" y2="585.5" stroke="#f00"/>
<line x1="301.5" y1="575.6" x2="301.5" y2="594.6" stroke="#f00"/>
<circle cx="322.3" cy="585.1" r="4.8"/>
<line x1="315.3" y1="585.5" x2="329.3" y2="585.5" stroke="#f00"/>
<line x1="322.5" y1="578.1" x2="322.5" y2="592.1" stroke="#f00"/>
<circle cx="343.6" cy="585.1" r="7.7"/>
<circle cx="343.6" cy="585.1" r="5.4"/>
<circle cx="343.6" cy="585.1" r="2.9"/>
<polygon points="351.3,585.1 347.5,591.5 339.8,591.5 335.9,585.1 339.8,578.5 347.5,578.5"/>
<line x1="333.6" y1="585.5" x2="353.6" y2="585.5" stroke="#f00"/>
<line x1="343.5" y1="575.1" x2="343.5" y2="595.1" stroke="#f00"/>
<line x1="288.4" y1="585.5" x2="358.6" y2="585.5" stroke="#f00" stroke-dasharray="16 2 3 2"/>
<circle cx="335.4" cy="629.2" r="11.2"/>
<circle cx="335.4" cy="629.2" r="8.7"/>
<circle cx="335.4" cy="629.2" r="5.8"/>
<circle cx="335.4" cy="629.2" r="2.9"/>
<line x1="321.4" y1="629.5" x2="349.4" y2="629.5" stroke="#f00"/>
<line x1="335.5" y1="615.2" x2="335.5" y2="643.2" stroke="#f00"/>
<line x1="329.2" y1="616.5" x2="341.6" y2="616.5"/>
<line x1="329.5" y1="616.4" x2="329.5" y2="620"/>
<line x1="341.5" y1="616.4" x2="341.5" y2="620"/>
<path d="M378.5 469.5H399.5M378.5 619.5H399.5" stroke-dasharray="9 2 2 2"/>
<path d="M376.5 471.5Q376.5 469.5 378.5 469.5M399.5 469.5Q402.5 469.5 402.5 471.5M376.5 617.5Q376.5 619.5 378.5 619.5M399.5 619.5Q402.5 619.5 402.5 617.5"/>
<line x1="376.5" y1="471.5" x2="376.5" y2="617.5" stroke-dasharray="22 2 3 2"/>
<line x1="402.5" y1="471.5" x2="402.5" y2="617.5" stroke-dasharray="22 2 3 2"/>
<rect x="449.5" y="493.5" width="93" height="102"/>
<line x1="500.5" y1="493.3" x2="500.5" y2="595.4"/>
<circle cx="513.5" cy="506.1" r="7.4"/>
<circle cx="513.5" cy="506.1" r="4.8"/>
<circle cx="513.5" cy="506.1" r="2.4"/>
<polygon points="520.9,506.1 517.2,512.5 509.8,512.5 506.1,506.1 509.8,499.5 517.2,499.5"/>
<line x1="504" y1="506.5" x2="523" y2="506.5" stroke="#f00"/>
<line x1="513.5" y1="496.6" x2="513.5" y2="515.6" stroke="#f00"/>
<circle cx="530.3" cy="506.1" r="4.3"/>
<line x1="525.3" y1="506.5" x2="535.3" y2="506.5" stroke="#f00"/>
<line x1="530.5" y1="501.1" x2="530.5" y2="511.1" stroke="#f00"/>
<circle cx="513.5" cy="582.5" r="4.3"/>
<line x1="508.5" y1="582.5" x2="518.5" y2="582.5" stroke="#f00"/>
<line x1="513.5" y1="577.5" x2="513.5" y2="587.5" stroke="#f00"/>
<circle cx="530.3" cy="582.5" r="7.7"/>
<circle cx="530.3" cy="582.5" r="4.8"/>
<circle cx="530.3" cy="582.5" r="2.4"/>
<polygon points="538,582.5 534.1,589.5 526.4,589.5 522.6,582.5 526.4,575.5 534.1,575.5"/>
<line x1="520.8" y1="582.5" x2="539.8" y2="582.5" stroke="#f00"/>
<line x1="530.5" y1="573" x2="530.5" y2="592" stroke="#f00"/>
<rect x="501.5" y="512.5" width="14" height="64" rx="2"/>
<line x1="503.5" y1="513" x2="503.5" y2="576"/>
<line x1="515.4" y1="533.5" x2="542.5" y2="533.5"/>
<line x1="515.4" y1="554.5" x2="542.5" y2="554.5"/>
<rect x="509.5" y="369.5" width="13" height="14"/>
<line x1="515.5" y1="317.5" x2="515.5" y2="383.6"/>
<line x1="509.3" y1="376.5" x2="586" y2="376.5"/>
<path d="M585.5 370.5V382.5L603.5 376.5Z"/>
<path d="M585.5 373.5L603.5 376.5L585.5 379.5" stroke="#888"/>
<path d="M617.5 368L629.5 385.5M629.5 368L617.5 385.5"/>
<text x="840.6" y="362.6" font-size="11" font-family="&quot;Liberation Sans&quot;,&quot;Noto Sans CJK SC&quot;,sans-serif" fill="#fff" stroke="none" font-weight="bold" textLength="33.6" lengthAdjust="spacingAndGlyphs">技术要求</text>
<text x="792" y="380.2" font-size="7.6" font-family="&quot;Liberation Sans&quot;,&quot;Noto Sans CJK SC&quot;,sans-serif" fill="#e8e8e8" stroke="none" letter-spacing="0.45">1.零件在装配前必须清理和清洗干净,</text>
<text x="792" y="390.8" font-size="7.6" font-family="&quot;Liberation Sans&quot;,&quot;Noto Sans CJK SC&quot;,sans-serif" fill="#e8e8e8" stroke="none" letter-spacing="0.45">不得有毛刺、飞边、氧化皮、锈蚀、</text>
<text x="792" y="401.3" font-size="7.6" font-family="&quot;Liberation Sans&quot;,&quot;Noto Sans CJK SC&quot;,sans-serif" fill="#e8e8e8" stroke="none" letter-spacing="0.45">切屑、油污、着色剂和灰尘等。</text>
<text x="792" y="411.8" font-size="7.6" font-family="&quot;Liberation Sans&quot;,&quot;Noto Sans CJK SC&quot;,sans-serif" fill="#e8e8e8" stroke="none" letter-spacing="0.45">2.螺钉、螺栓和螺母紧固时，严禁打</text>
<text x="792" y="422.4" font-size="7.6" font-family="&quot;Liberation Sans&quot;,&quot;Noto Sans CJK SC&quot;,sans-serif" fill="#e8e8e8" stroke="none" letter-spacing="0.45">击或使用不合适的旋具和扳手。紧固</text>
<text x="792" y="432.9" font-size="7.6" font-family="&quot;Liberation Sans&quot;,&quot;Noto Sans CJK SC&quot;,sans-serif" fill="#e8e8e8" stroke="none" letter-spacing="0.45">后螺钉槽、螺母和螺钉、螺栓头部不</text>
<text x="792" y="443.5" font-size="7.6" font-family="&quot;Liberation Sans&quot;,&quot;Noto Sans CJK SC&quot;,sans-serif" fill="#e8e8e8" stroke="none" letter-spacing="0.45">得损坏。</text>
<text x="792" y="454.1" font-size="7.6" font-family="&quot;Liberation Sans&quot;,&quot;Noto Sans CJK SC&quot;,sans-serif" fill="#e8e8e8" stroke="none" letter-spacing="0.45">3.装配过程中零件不允许磕、碰、划</text>
<text x="792" y="464.6" font-size="7.6" font-family="&quot;Liberation Sans&quot;,&quot;Noto Sans CJK SC&quot;,sans-serif" fill="#e8e8e8" stroke="none" letter-spacing="0.45">伤和锈蚀。</text>
<text x="731" y="452" font-size="11.6" font-family="&quot;Liberation Sans&quot;,&quot;Noto Sans CJK SC&quot;,sans-serif" fill="#fff" stroke="none" text-anchor="middle">C 向</text>
<circle cx="732.5" cy="521" r="50.9"/>
<circle cx="732.5" cy="521" r="31.2"/>
<circle cx="732.5" cy="521" r="29.2"/>
<circle cx="732.5" cy="521" r="20.8"/>
<line x1="681.5" y1="521" x2="681.5" y2="615.2"/>
<line x1="783.5" y1="521" x2="783.5" y2="615.2"/>
<line x1="681.6" y1="589.5" x2="783.5" y2="589.5"/>
<line x1="681.6" y1="611.5" x2="783.5" y2="611.5"/>
<line x1="681.6" y1="615.5" x2="783.5" y2="615.5"/>
<line x1="722.5" y1="571.3" x2="722.5" y2="589.1"/>
<line x1="743.5" y1="570.8" x2="743.5" y2="589.1"/>
<line x1="721.5" y1="550.5" x2="745" y2="550.5"/>
<circle cx="741.5" cy="559.4" r="9.8"/>
<line x1="731.5" y1="557.5" x2="751.5" y2="557.5"/>
<line x1="731.5" y1="561.5" x2="751.5" y2="561.5"/>
<line x1="730.5" y1="559.5" x2="752" y2="559.5" stroke="#f00"/>
<line x1="741.5" y1="550.5" x2="741.5" y2="569.5" stroke="#f00"/>
<line x1="681.6" y1="521.5" x2="785" y2="521.5" stroke="#f00" stroke-dasharray="16 2 3 2"/>
<line x1="732.5" y1="470" x2="732.5" y2="615.4" stroke="#f00" stroke-dasharray="22 2 3 2"/>
<line x1="850.7" y1="508.5" x2="1003" y2="508.5"/>
<line x1="850.7" y1="514.5" x2="1003" y2="514.5"/>
<line x1="850.7" y1="520.5" x2="1003" y2="520.5"/>
<line x1="850.7" y1="526.5" x2="1003" y2="526.5"/>
<line x1="850.7" y1="532.5" x2="1003" y2="532.5"/>
<line x1="850.7" y1="538.5" x2="1003" y2="538.5"/>
<line x1="850.7" y1="544.5" x2="1003" y2="544.5"/>
<line x1="850.7" y1="550.5" x2="1003" y2="550.5"/>
<line x1="850.7" y1="555.5" x2="1003" y2="555.5"/>
<line x1="850.7" y1="561.5" x2="1003" y2="561.5"/>
<line x1="850.7" y1="567.5" x2="1003" y2="567.5"/>
<line x1="850.7" y1="573.5" x2="1003" y2="573.5"/>
<line x1="850.7" y1="579.5" x2="1003" y2="579.5"/>
<line x1="850.7" y1="585.5" x2="1003" y2="585.5"/>
<line x1="850.7" y1="591.5" x2="1003" y2="591.5"/>
<line x1="850.7" y1="597.5" x2="1003" y2="597.5"/>
<line x1="850.7" y1="603.5" x2="1003" y2="603.5"/>
<line x1="850.7" y1="609.5" x2="1003" y2="609.5"/>
<line x1="850.7" y1="615.5" x2="1003" y2="615.5"/>
<line x1="850.7" y1="621.5" x2="1003" y2="621.5"/>
<line x1="850.7" y1="627.5" x2="1003" y2="627.5"/>
<line x1="850.7" y1="633.5" x2="1003" y2="633.5"/>
<line x1="850.7" y1="639.5" x2="1003" y2="639.5"/>
<line x1="850.7" y1="645.5" x2="1003" y2="645.5"/>
<line x1="850.7" y1="651.5" x2="1003" y2="651.5"/>
<line x1="850.7" y1="657.5" x2="1003" y2="657.5"/>
<line x1="850.5" y1="508.2" x2="850.5" y2="668.2"/>
<line x1="857.5" y1="508.2" x2="857.5" y2="668.2"/>
<line x1="891.5" y1="508.2" x2="891.5" y2="668.2"/>
<line x1="929.5" y1="508.2" x2="929.5" y2="668.2"/>
<line x1="935.5" y1="508.2" x2="935.5" y2="668.2"/>
<line x1="968.5" y1="508.2" x2="968.5" y2="668.2"/>
<line x1="976.5" y1="508.2" x2="976.5" y2="668.2"/>
<line x1="986.5" y1="508.2" x2="986.5" y2="668.2"/>
<rect x="892.3" y="509.7" width="6" height="4" fill="#fff" stroke="none"/>
<rect x="852" y="509.7" width="1" height="4" fill="#fff" stroke="none"/>
<rect x="930.8" y="510.2" width="3" height="3" fill="#fff" stroke="none"/>
<rect x="937" y="509.7" width="2.8" height="4" fill="#fff" stroke="none"/>
<rect x="858.6" y="515.7" width="21" height="4" fill="#fff" stroke="none"/>
<rect x="892.3" y="515.7" width="20" height="4" fill="#fff" stroke="none"/>
<rect x="852" y="515.7" width="1" height="4" fill="#fff" stroke="none"/>
<rect x="930.8" y="516.2" width="3" height="3" fill="#fff" stroke="none"/>
<rect x="937" y="515.7" width="2.8" height="4" fill="#fff" stroke="none"/>
<rect x="892.3" y="521.6" width="17" height="4" fill="#fff" stroke="none"/>
<rect x="852" y="521.6" width="1" height="4" fill="#fff" stroke="none"/>
<rect x="930.8" y="522.1" width="3" height="3" fill="#fff" stroke="none"/>
<rect x="937" y="521.6" width="2.8" height="4" fill="#fff" stroke="none"/>
<rect x="858.6" y="527.6" width="24" height="4" fill="#fff" stroke="none"/>
<rect x="892.3" y="527.6" width="27" height="4" fill="#fff" stroke="none"/>
<rect x="852" y="527.6" width="1" height="4" fill="#fff" stroke="none"/>
<rect x="930.8" y="528.1" width="3" height="3" fill="#fff" stroke="none"/>
<rect x="937" y="527.6" width="2.8" height="4" fill="#fff" stroke="none"/>
<rect x="858.6" y="533.6" width="25" height="4" fill="#fff" stroke="none"/>
<rect x="892.3" y="533.6" width="31" height="4" fill="#fff" stroke="none"/>
<rect x="852" y="533.6" width="1" height="4" fill="#fff" stroke="none"/>
<rect x="930.8" y="534.1" width="3" height="3" fill="#fff" stroke="none"/>
<rect x="937" y="533.6" width="2.8" height="4" fill="#fff" stroke="none"/>
<rect x="858.6" y="539.6" width="21" height="4" fill="#fff" stroke="none"/>
<rect x="892.3" y="539.6" width="20" height="4" fill="#fff" stroke="none"/>
<rect x="852" y="539.6" width="1" height="4" fill="#fff" stroke="none"/>
<rect x="930.8" y="540.1" width="3" height="3" fill="#fff" stroke="none"/>
<rect x="937" y="539.6" width="2.8" height="4" fill="#fff" stroke="none"/>
<rect x="858.6" y="545.5" width="24" height="4" fill="#fff" stroke="none"/>
<rect x="892.3" y="545.5" width="13" height="4" fill="#fff" stroke="none"/>
<rect x="851.5" y="545.5" width="4.3" height="4" fill="#fff" stroke="none"/>
<rect x="930.8" y="546" width="3" height="3" fill="#fff" stroke="none"/>
<rect x="937" y="545.5" width="2.8" height="4" fill="#fff" stroke="none"/>
<rect x="858.6" y="551.5" width="25" height="4" fill="#fff" stroke="none"/>
<rect x="892.3" y="551.5" width="31" height="4" fill="#fff" stroke="none"/>
<rect x="851.5" y="551.5" width="4.3" height="4" fill="#fff" stroke="none"/>
<rect x="930.8" y="552" width="3" height="3" fill="#fff" stroke="none"/>
<rect x="937" y="551.5" width="2.8" height="4" fill="#fff" stroke="none"/>
<rect x="858.6" y="557.5" width="21" height="4" fill="#fff" stroke="none"/>
<rect x="892.3" y="557.5" width="20" height="4" fill="#fff" stroke="none"/>
<rect x="851.5" y="557.5" width="4.3" height="4" fill="#fff" stroke="none"/>
<rect x="930.8" y="558" width="3" height="3" fill="#fff" stroke="none"/>
<rect x="937" y="557.5" width="2.8" height="4" fill="#fff" stroke="none"/>
<rect x="858.6" y="563.4" width="21" height="4" fill="#fff" stroke="none"/>
<rect x="892.3" y="563.4" width="36" height="4" fill="#fff" stroke="none"/>
<rect x="852" y="563.4" width="1" height="4" fill="#fff" stroke="none"/>
<rect x="930.8" y="563.9" width="3" height="3" fill="#fff" stroke="none"/>
<rect x="937" y="563.4" width="2.8" height="4" fill="#fff" stroke="none"/>
<rect x="892.3" y="569.4" width="11" height="4" fill="#fff" stroke="none"/>
<rect x="852" y="569.4" width="1" height="4" fill="#fff" stroke="none"/>
<rect x="930.8" y="569.9" width="3" height="3" fill="#fff" stroke="none"/>
<rect x="937" y="569.4" width="2.8" height="4" fill="#fff" stroke="none"/>
<rect x="858.6" y="575.4" width="17" height="4" fill="#fff" stroke="none"/>
<rect x="892.3" y="575.4" width="24" height="4" fill="#fff" stroke="none"/>
<rect x="852" y="575.4" width="1" height="4" fill="#fff" stroke="none"/>
<rect x="930.8" y="575.9" width="3" height="3" fill="#fff" stroke="none"/>
<rect x="937" y="575.4" width="2.8" height="4" fill="#fff" stroke="none"/>
<rect x="858.6" y="581.4" width="24" height="4" fill="#fff" stroke="none"/>
<rect x="892.3" y="581.4" width="26" height="4" fill="#fff" stroke="none"/>
<rect x="852" y="581.4" width="1" height="4" fill="#fff" stroke="none"/>
<rect x="930.8" y="581.9" width="3" height="3" fill="#fff" stroke="none"/>
<rect x="937" y="581.4" width="2.8" height="4" fill="#fff" stroke="none"/>
<rect x="858.6" y="587.3" width="21" height="4" fill="#fff" stroke="none"/>
<rect x="892.3" y="587.3" width="20" height="4" fill="#fff" stroke="none"/>
<rect x="852" y="587.3" width="1" height="4" fill="#fff" stroke="none"/>
<rect x="930.8" y="587.8" width="3" height="3" fill="#fff" stroke="none"/>
<rect x="937" y="587.3" width="2.8" height="4" fill="#fff" stroke="none"/>
<rect x="858.6" y="593.3" width="21" height="4" fill="#fff" stroke="none"/>
<rect x="892.3" y="593.3" width="35" height="4" fill="#fff" stroke="none"/>
<rect x="852" y="593.3" width="1" height="4" fill="#fff" stroke="none"/>
<rect x="930.8" y="593.8" width="3" height="3" fill="#fff" stroke="none"/>
<rect x="937" y="593.3" width="2.8" height="4" fill="#fff" stroke="none"/>
<rect x="858.6" y="599.3" width="24" height="4" fill="#fff" stroke="none"/>
<rect x="892.3" y="599.3" width="18" height="4" fill="#fff" stroke="none"/>
<rect x="852" y="599.3" width="1" height="4" fill="#fff" stroke="none"/>
<rect x="930.8" y="599.8" width="3" height="3" fill="#fff" stroke="none"/>
<rect x="937" y="599.3" width="2.8" height="4" fill="#fff" stroke="none"/>
<rect x="858.6" y="605.3" width="24" height="4" fill="#fff" stroke="none"/>
<rect x="892.3" y="605.3" width="25" height="4" fill="#fff" stroke="none"/>
<rect x="852" y="605.3" width="1" height="4" fill="#fff" stroke="none"/>
<rect x="930.8" y="605.8" width="3" height="3" fill="#fff" stroke="none"/>
<rect x="937" y="605.3" width="2.8" height="4" fill="#fff" stroke="none"/>
<rect x="858.6" y="611.2" width="24" height="4" fill="#fff" stroke="none"/>
<rect x="892.3" y="611.2" width="29" height="4" fill="#fff" stroke="none"/>
<rect x="852" y="611.2" width="1" height="4" fill="#fff" stroke="none"/>
<rect x="930.8" y="611.7" width="3" height="3" fill="#fff" stroke="none"/>
<rect x="937" y="611.2" width="2.8" height="4" fill="#fff" stroke="none"/>
<rect x="892.3" y="617.2" width="9" height="4" fill="#fff" stroke="none"/>
<rect x="852" y="617.2" width="1" height="4" fill="#fff" stroke="none"/>
<rect x="930.8" y="617.7" width="3" height="3" fill="#fff" stroke="none"/>
<rect x="937" y="617.2" width="6" height="4" fill="#fff" stroke="none"/>
<rect x="858.6" y="623.2" width="24" height="4" fill="#fff" stroke="none"/>
<rect x="892.3" y="623.2" width="25" height="4" fill="#fff" stroke="none"/>
<rect x="852" y="623.2" width="1" height="4" fill="#fff" stroke="none"/>
<rect x="930.8" y="623.7" width="3" height="3" fill="#fff" stroke="none"/>
<rect x="937" y="623.2" width="2.8" height="4" fill="#fff" stroke="none"/>
<rect x="892.3" y="629.1" width="14" height="4" fill="#fff" stroke="none"/>
<rect x="852" y="629.1" width="1" height="4" fill="#fff" stroke="none"/>
<rect x="930.8" y="629.6" width="3" height="3" fill="#fff" stroke="none"/>
<rect x="937" y="629.1" width="6" height="4" fill="#fff" stroke="none"/>
<rect x="892.3" y="635.1" width="15" height="4" fill="#fff" stroke="none"/>
<rect x="852" y="635.1" width="1" height="4" fill="#fff" stroke="none"/>
<rect x="930.8" y="635.6" width="3" height="3" fill="#fff" stroke="none"/>
<rect x="937" y="635.1" width="6" height="4" fill="#fff" stroke="none"/>
<rect x="858.6" y="641.1" width="21" height="4" fill="#fff" stroke="none"/>
<rect x="892.3" y="641.1" width="18" height="4" fill="#fff" stroke="none"/>
<rect x="852" y="641.1" width="1" height="4" fill="#fff" stroke="none"/>
<rect x="930.8" y="641.6" width="3" height="3" fill="#fff" stroke="none"/>
<rect x="937" y="641.1" width="2.8" height="4" fill="#fff" stroke="none"/>
<rect x="858.6" y="647.1" width="21" height="4" fill="#fff" stroke="none"/>
<rect x="892.3" y="647.1" width="33" height="4" fill="#fff" stroke="none"/>
<rect x="852" y="647.1" width="1" height="4" fill="#fff" stroke="none"/>
<rect x="930.8" y="647.6" width="3" height="3" fill="#fff" stroke="none"/>
<rect x="937" y="647.1" width="2.8" height="4" fill="#fff" stroke="none"/>
<rect x="892.3" y="653" width="9" height="4" fill="#fff" stroke="none"/>
<rect x="852" y="653" width="1" height="4" fill="#fff" stroke="none"/>
<rect x="930.8" y="653.5" width="3" height="3" fill="#fff" stroke="none"/>
<rect x="937" y="653" width="6" height="4" fill="#fff" stroke="none"/>
<text x="870.4" y="666" font-size="6.5" font-family="&quot;Liberation Sans&quot;,&quot;Noto Sans CJK SC&quot;,sans-serif" fill="#fff" stroke="none" font-weight="bold" textLength="9.2" lengthAdjust="spacingAndGlyphs">代号</text>
<text x="906.6" y="666" font-size="6.5" font-family="&quot;Liberation Sans&quot;,&quot;Noto Sans CJK SC&quot;,sans-serif" fill="#fff" stroke="none" font-weight="bold" textLength="8.4" lengthAdjust="spacingAndGlyphs">名称</text>
<text x="947.7" y="666" font-size="6.5" font-family="&quot;Liberation Sans&quot;,&quot;Noto Sans CJK SC&quot;,sans-serif" fill="#fff" stroke="none" font-weight="bold" textLength="8.4" lengthAdjust="spacingAndGlyphs">材料</text>
<text x="991.3" y="666" font-size="6.5" font-family="&quot;Liberation Sans&quot;,&quot;Noto Sans CJK SC&quot;,sans-serif" fill="#fff" stroke="none" font-weight="bold" textLength="8.4" lengthAdjust="spacingAndGlyphs">备注</text>
<text x="851.6" y="666" font-size="6" font-family="&quot;Liberation Sans&quot;,&quot;Noto Sans CJK SC&quot;,sans-serif" fill="#fff" stroke="none" font-weight="bold" textLength="4.6" lengthAdjust="spacingAndGlyphs">序</text>
<rect x="969" y="663" width="4.5" height="4.5" fill="#fff" stroke="none"/>
<rect x="981" y="663" width="4" height="4.5" fill="#fff" stroke="none"/>
<rect x="975.5" y="658.5" width="1" height="4.5" fill="#fff" stroke="none"/>
<rect x="978.5" y="658.5" width="1" height="4.5" fill="#fff" stroke="none"/>
<line x1="850.7" y1="668.5" x2="1003" y2="668.5"/>
<line x1="850.5" y1="508.2" x2="850.5" y2="715.9"/>
<line x1="850.7" y1="674.5" x2="918.9" y2="674.5"/>
<line x1="850.7" y1="680.5" x2="918.9" y2="680.5"/>
<line x1="850.7" y1="686.5" x2="918.9" y2="686.5"/>
<line x1="850.7" y1="692.5" x2="918.9" y2="692.5"/>
<line x1="850.7" y1="698.5" x2="918.9" y2="698.5"/>
<line x1="850.7" y1="703.5" x2="918.9" y2="703.5"/>
<line x1="850.7" y1="709.5" x2="918.9" y2="709.5"/>
<line x1="859.5" y1="668.2" x2="859.5" y2="692"/>
<line x1="867.5" y1="668.2" x2="867.5" y2="692"/>
<line x1="881.5" y1="668.2" x2="881.5" y2="692"/>
<line x1="895.5" y1="668.2" x2="895.5" y2="692"/>
<line x1="905.5" y1="668.2" x2="905.5" y2="692"/>
<line x1="861.5" y1="692" x2="861.5" y2="715.9"/>
<line x1="871.5" y1="692" x2="871.5" y2="715.9"/>
<line x1="884.5" y1="692" x2="884.5" y2="715.9"/>
<line x1="895.5" y1="692" x2="895.5" y2="715.9"/>
<line x1="905.5" y1="692" x2="905.5" y2="715.9"/>
<line x1="918.5" y1="668.2" x2="918.5" y2="715.9"/>
<line x1="918.9" y1="692.5" x2="961.7" y2="692.5"/>
<line x1="918.9" y1="702.5" x2="961.7" y2="702.5"/>
<line x1="918.9" y1="708.5" x2="961.7" y2="708.5"/>
<line x1="940.5" y1="692.1" x2="940.5" y2="708.5"/>
<line x1="961.5" y1="668.2" x2="961.5" y2="715.9"/>
<line x1="961.7" y1="684.5" x2="1003" y2="684.5"/>
<line x1="961.7" y1="702.5" x2="1003" y2="702.5"/>
<line x1="924.5" y1="702" x2="924.5" y2="708.5"/>
<line x1="927.5" y1="702" x2="927.5" y2="708.5"/>
<line x1="931.5" y1="702" x2="931.5" y2="708.5"/>
<line x1="934.5" y1="702" x2="934.5" y2="708.5"/>
<line x1="952.5" y1="702" x2="952.5" y2="708.5"/>
<rect x="852" y="687.5" width="4.8" height="4.5" fill="#fff" stroke="none"/>
<rect x="860.5" y="687.5" width="5.5" height="4.5" fill="#fff" stroke="none"/>
<rect x="871" y="687.5" width="6.5" height="4.5" fill="#fff" stroke="none"/>
<rect x="882.5" y="687.5" width="21" height="3.5" fill="#fff" stroke="none"/>
<rect x="906.5" y="687.5" width="11.5" height="1.5" fill="#fff" stroke="none"/>
<rect x="852" y="693.5" width="6.5" height="4.5" fill="#fff" stroke="none"/>
<rect x="884.5" y="693.5" width="9.5" height="4.5" fill="#fff" stroke="none"/>
<rect x="852" y="705.5" width="6.5" height="4.5" fill="#fff" stroke="none"/>
<rect x="852" y="711.5" width="6.5" height="4" fill="#fff" stroke="none"/>
<rect x="885.5" y="711.5" width="7.5" height="4" fill="#fff" stroke="none"/>
<rect x="920.8" y="694.5" width="16.2" height="5.5" fill="#fff" stroke="none"/>
<rect x="942" y="694.5" width="7" height="5.5" fill="#fff" stroke="none"/>
<rect x="952" y="694.5" width="7" height="5.5" fill="#fff" stroke="none"/>
<rect x="954" y="703.5" width="3.5" height="4" fill="#fff" stroke="none"/>
<rect x="924" y="710.5" width="31" height="4" fill="#fff" stroke="none"/>
</svg>
<svg width="1034" height="16" viewBox="0 0 1034 16" style="position:absolute;left:0;top:0;will-change:transform" font-family="&quot;Liberation Mono&quot;,&quot;Noto Sans CJK SC&quot;,monospace" font-size="10">
<defs><linearGradient id="tbg" x1="0" y1="0" x2="0" y2="1"><stop offset="0" stop-color="#ffffff"/><stop offset="0.3" stop-color="#d0d0d0"/><stop offset="0.6" stop-color="#8c8c8c"/><stop offset="1" stop-color="#1c1c1c"/></linearGradient></defs>
<rect x="0" y="0" width="1034" height="12" fill="#f0f0f0"/>
<rect x="0" y="12" width="1034" height="1" fill="#a0a0a0"/><rect x="0" y="13" width="1034" height="1" fill="#f2f2f2"/><rect x="0" y="14" width="1034" height="1" fill="#b0b0b0"/><rect x="0" y="15" width="1034" height="1" fill="#484848"/>
<!-- left panel -->
<rect x="0" y="0" width="3" height="7.5" fill="#3b78c4"/><rect x="0" y="2" width="2" height="3" fill="#e8eef8"/>
<rect x="11" y="0" width="14" height="7.5" rx="1" fill="#c9dcf0"/><rect x="12.5" y="0" width="11" height="6" fill="#26292e"/><rect x="13" y="6.3" width="10" height="1" fill="#fff"/>
<rect x="33" y="0" width="1" height="12" fill="#a8a8a8"/><rect x="34" y="0" width="1" height="12" fill="#fff"/>
<rect x="37" y="0" width="1" height="12" fill="#fff"/><rect x="38" y="0" width="1" height="11.5" fill="#9a9a9a"/>
<rect x="41" y="0" width="1" height="12" fill="#fff"/><rect x="42" y="0" width="1" height="11.5" fill="#9a9a9a"/>
<!-- layers icon -->
<path d="M51 1.5L59 5.5L67 2.2L67 3.2L59 7.2L51 3Z" fill="#6f9ad0"/><path d="M52 0L59.5 3.6L66.5 0.5L66 0Z" fill="#b5cdea"/><path d="M51 1.2L59 5L67 1.8" stroke="#2f5f9e" stroke-width="1" fill="none"/><path d="M55 0L59.5 2L64 0Z" fill="#3a68a8"/>
<!-- combo 1 -->
<rect x="72" y="0" width="298.5" height="11" fill="#fff"/>
<path d="M80 0H85.5Q85.5 2.5 84 3.2V5.8Q82.7 6.8 81.3 5.8V3.2Q80 2.5 80 0Z" fill="#fbf6c8" stroke="#8a8a6a" stroke-width="0.5"/><rect x="81.3" y="3.6" width="2.8" height="2.4" fill="#4a5a9a"/>
<circle cx="98.4" cy="-0.5" r="6.6" fill="#f7e24c" stroke="#2f62b8" stroke-width="0.9"/><rect x="91.5" y="4.8" width="1.6" height="1.6" fill="#e8a628"/><rect x="103.8" y="4.8" width="1.6" height="1.6" fill="#e8a628"/>
<rect x="113.8" y="0" width="7.6" height="6" fill="#fff" stroke="#7a93b8" stroke-width="0.8"/><path d="M108 0A5.6 3.6 0 0 0 119 0Z" fill="#7ea2da"/><path d="M111 0L113.5 1.6L116 0Z" fill="#e8d26a"/>
<rect x="126" y="0" width="1.4" height="1" fill="#4a4a10"/>
<path d="M130.5 0V5Q135 7.6 139.8 5V0Z" fill="#d6d428" stroke="#8a8a10" stroke-width="0.6"/><path d="M131.5 1.2H137M131.5 3.2H137" stroke="#fafad0" stroke-width="0.9"/><rect x="137.6" y="0" width="2" height="4" fill="#a8a418"/>
<rect x="142.6" y="-2" width="9" height="7.4" fill="#fff" stroke="#000" stroke-width="1"/>
<text x="157" y="4.5" fill="#000">EB0</text>
<path d="M358 0H367L362.5 4.3Z" fill="#000"/>
<!-- icons after combo1 -->
<path d="M375 1.5L382 4.8L389.5 1.8V0H375Z" fill="#f1d83a"/><path d="M378 0L383 2.2L388 0Z" fill="#a9c6ea"/><path d="M374.5 5.3L378 5.3L378 8.5M378 5.3L374.3 8.8" stroke="#1f3f8f" stroke-width="1.1" fill="none"/>
<path d="M397 0.5L405 4.6L413.5 1.6V3L405 7L397 2.2Z" fill="#88abd9"/><path d="M399 0L405.5 3L412 0Z" fill="#b9d0ec"/><path d="M402.5 0H407.5L405 2Z" fill="#1f3f8f"/>
<rect x="419.5" y="0" width="1" height="12" fill="#c4c4c4"/>
<rect x="422" y="0" width="1" height="12" fill="#fff"/><rect x="423" y="0" width="1" height="11.5" fill="#9a9a9a"/>
<rect x="426" y="0" width="1" height="12" fill="#fff"/><rect x="427" y="0" width="1" height="11.5" fill="#9a9a9a"/>
<rect x="431" y="0" width="1" height="12" fill="#dcdcdc"/>
<!-- combo 2 -->
<rect x="436" y="0" width="147.8" height="11" fill="#fff"/>
<rect x="441.5" y="-2" width="9" height="7.4" fill="#fff" stroke="#000" stroke-width="1"/>
<text x="455" y="4.5" fill="#000">ByLayer</text>
<path d="M572.3 0H580.7L576.5 4Z" fill="#000"/>
<rect x="584.5" y="0" width="1" height="11" fill="#dcdcdc"/><rect x="586.5" y="0" width="1" height="10.5" fill="#6a6a6a"/><rect x="588.5" y="0" width="1.5" height="11" fill="#e2e2ea"/>
<!-- combo 3 -->
<rect x="591.8" y="0" width="158.4" height="11" fill="#fff"/>
<rect x="595.7" y="0.8" width="60.3" height="1" fill="#000"/>
<text x="661" y="4.5" fill="#000">ByLayer</text>
<path d="M738.5 0H746.3L742.4 4Z" fill="#000"/>
<rect x="750.5" y="0" width="1.5" height="10.5" fill="#e2e2ea"/><rect x="753" y="0" width="1" height="10" fill="#4a4a4a"/><rect x="755" y="0" width="2" height="10.5" fill="#e2e2ea"/>
<!-- combo 4 -->
<rect x="757.7" y="0" width="114.6" height="11" fill="#fff"/>
<rect x="762" y="0" width="34.8" height="2.6" fill="#000"/>
<text x="802" y="4.5" fill="#000">ByLayer</text>
<path d="M868.5 0H877L872.8 3.5Z" fill="#000"/>
<rect x="879" y="0" width="2" height="10" fill="#fff"/>
<rect x="884" y="0" width="1" height="10" fill="#4a4a4a"/>
<!-- combo 5 (disabled) -->
<rect x="887.5" y="0" width="123.5" height="12" fill="#a8a8a8"/>
<rect x="888.5" y="0" width="118.8" height="10.5" fill="#fff"/>
<rect x="889.5" y="0" width="99.5" height="9.5" fill="#ebebeb"/>
<rect x="1007.3" y="0" width="2.7" height="11" fill="#e6e6e6"/>
<text x="897" y="5.3" fill="#8a8a8a" font-size="12" font-family="&quot;Liberation Sans&quot;,&quot;Noto Sans CJK SC&quot;,sans-serif">随颜色</text>
<path d="M995.5 0H1004L999.7 3.8Z" fill="#9c9c9c"/>
</svg>

</body></html>
